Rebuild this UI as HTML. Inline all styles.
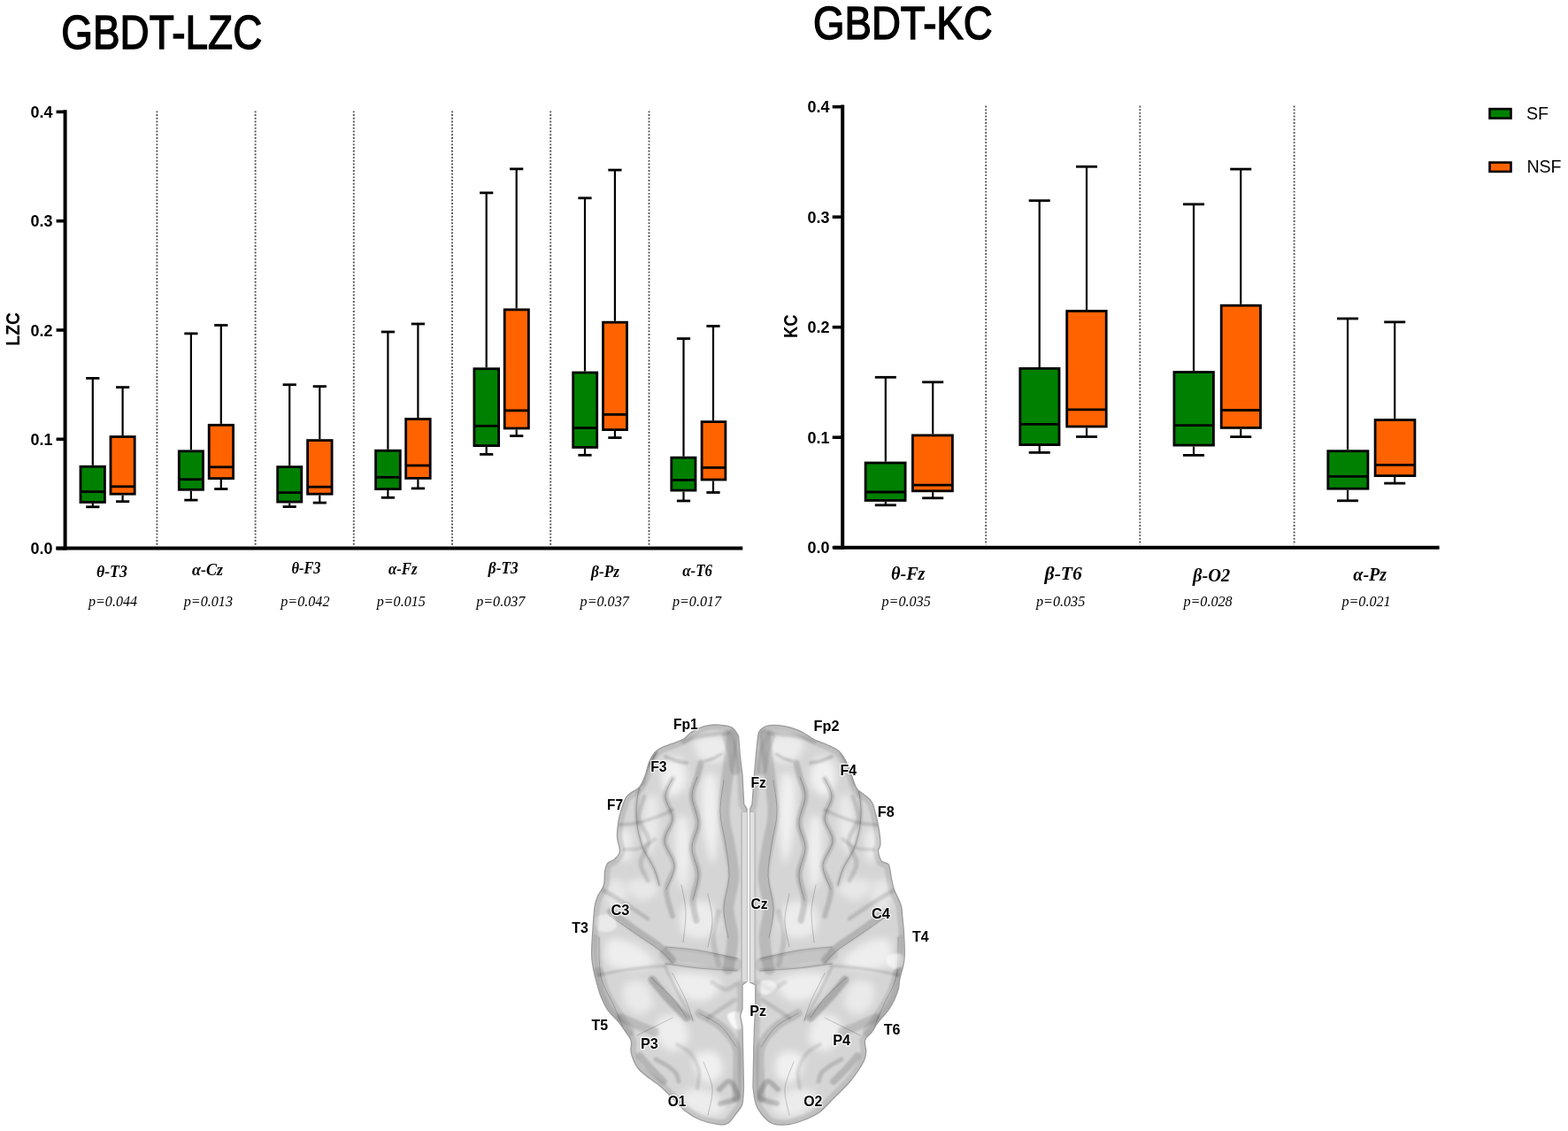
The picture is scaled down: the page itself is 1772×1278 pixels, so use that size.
<!DOCTYPE html>
<html><head><meta charset="utf-8"><title>GBDT-LZC / GBDT-KC</title>
<style>
html,body{margin:0;padding:0;background:#fff;}
body{width:1772px;height:1278px;overflow:hidden;}
svg{display:block;}
.title{font-family:"Liberation Sans",sans-serif;font-size:54px;fill:#000;stroke:#000;stroke-width:1.5px;}
.title2{font-family:"Liberation Sans",sans-serif;font-size:52.5px;fill:#000;stroke:#000;stroke-width:1.5px;}
.tk{font-family:"Liberation Sans",sans-serif;font-weight:bold;font-size:18.6px;fill:#000;}
.ylab{font-family:"Liberation Sans",sans-serif;font-weight:bold;font-size:21.6px;fill:#000;}
.xl{font-family:"Liberation Serif",serif;font-weight:bold;font-style:italic;font-size:18px;fill:#000;}
.xl2{font-family:"Liberation Serif",serif;font-weight:bold;font-style:italic;font-size:21px;fill:#000;}
.pv{font-family:"Liberation Serif",serif;font-style:italic;font-size:16.5px;fill:#000;}
.leg{font-family:"Liberation Sans",sans-serif;font-size:21px;fill:#000;}
.el{font-family:"Liberation Sans",sans-serif;font-weight:bold;font-size:16.6px;fill:#000;stroke:#fff;stroke-width:2.6px;stroke-linejoin:round;paint-order:stroke;stroke-opacity:0.85;}
</style></head>
<body>
<svg width="1772" height="1278" viewBox="0 0 1772 1278">
<text x="69.3" y="55.3" class="title" textLength="227" lengthAdjust="spacingAndGlyphs">GBDT-LZC</text>
<text x="919.1" y="43.5" class="title2" textLength="202.5" lengthAdjust="spacingAndGlyphs">GBDT-KC</text>
<line x1="177.4" y1="125.4" x2="177.4" y2="616" stroke="#555" stroke-width="1.9" stroke-dasharray="1.9 1.8"/>
<line x1="288.6" y1="125.4" x2="288.6" y2="616" stroke="#555" stroke-width="1.9" stroke-dasharray="1.9 1.8"/>
<line x1="399.8" y1="125.4" x2="399.8" y2="616" stroke="#555" stroke-width="1.9" stroke-dasharray="1.9 1.8"/>
<line x1="511.0" y1="125.4" x2="511.0" y2="616" stroke="#555" stroke-width="1.9" stroke-dasharray="1.9 1.8"/>
<line x1="622.2" y1="125.4" x2="622.2" y2="616" stroke="#555" stroke-width="1.9" stroke-dasharray="1.9 1.8"/>
<line x1="733.5" y1="125.4" x2="733.5" y2="616" stroke="#555" stroke-width="1.9" stroke-dasharray="1.9 1.8"/>
<line x1="73.6" y1="124.2" x2="73.6" y2="621.6" stroke="#000" stroke-width="4"/>
<line x1="63.599999999999994" y1="619.6" x2="73.6" y2="619.6" stroke="#000" stroke-width="3.6"/>
<text x="34.5" y="626.2" class="tk" textLength="25" lengthAdjust="spacingAndGlyphs">0.0</text>
<line x1="63.599999999999994" y1="496.3" x2="73.6" y2="496.3" stroke="#000" stroke-width="3.6"/>
<text x="34.5" y="502.9" class="tk" textLength="25" lengthAdjust="spacingAndGlyphs">0.1</text>
<line x1="63.599999999999994" y1="373.0" x2="73.6" y2="373.0" stroke="#000" stroke-width="3.6"/>
<text x="34.5" y="379.6" class="tk" textLength="25" lengthAdjust="spacingAndGlyphs">0.2</text>
<line x1="63.599999999999994" y1="249.7" x2="73.6" y2="249.7" stroke="#000" stroke-width="3.6"/>
<text x="34.5" y="256.3" class="tk" textLength="25" lengthAdjust="spacingAndGlyphs">0.3</text>
<line x1="63.599999999999994" y1="126.4" x2="73.6" y2="126.4" stroke="#000" stroke-width="3.6"/>
<text x="34.5" y="133.0" class="tk" textLength="25" lengthAdjust="spacingAndGlyphs">0.4</text>
<line x1="63.4" y1="619.6" x2="839.3" y2="619.6" stroke="#000" stroke-width="4"/>
<text transform="translate(21.6,390.7) rotate(-90)" class="ylab" textLength="37.7" lengthAdjust="spacingAndGlyphs">LZC</text>
<line x1="104.8" y1="427.4" x2="104.8" y2="525.8" stroke="#000" stroke-width="2.2"/>
<line x1="104.8" y1="568.9" x2="104.8" y2="572.8" stroke="#000" stroke-width="2.2"/>
<line x1="97.2" y1="427.4" x2="112.4" y2="427.4" stroke="#000" stroke-width="2.8"/>
<line x1="97.2" y1="572.8" x2="112.4" y2="572.8" stroke="#000" stroke-width="2.8"/>
<rect x="91.0" y="527.2" width="27.4" height="40.3" fill="#008000" stroke="#000" stroke-width="2.8"/>
<line x1="91.0" y1="555.6" x2="118.4" y2="555.6" stroke="#000" stroke-width="2.8"/>
<line x1="138.6" y1="437.6" x2="138.6" y2="492.1" stroke="#000" stroke-width="2.2"/>
<line x1="138.6" y1="559.6" x2="138.6" y2="566.7" stroke="#000" stroke-width="2.2"/>
<line x1="131.0" y1="437.6" x2="146.2" y2="437.6" stroke="#000" stroke-width="2.8"/>
<line x1="131.0" y1="566.7" x2="146.2" y2="566.7" stroke="#000" stroke-width="2.8"/>
<rect x="125.0" y="493.5" width="27.2" height="64.7" fill="#ff6300" stroke="#000" stroke-width="2.8"/>
<line x1="125.0" y1="549.8" x2="152.2" y2="549.8" stroke="#000" stroke-width="2.8"/>
<line x1="215.9" y1="376.9" x2="215.9" y2="508.4" stroke="#000" stroke-width="2.2"/>
<line x1="215.9" y1="554.7" x2="215.9" y2="565.1" stroke="#000" stroke-width="2.2"/>
<line x1="208.3" y1="376.9" x2="223.5" y2="376.9" stroke="#000" stroke-width="2.8"/>
<line x1="208.3" y1="565.1" x2="223.5" y2="565.1" stroke="#000" stroke-width="2.8"/>
<rect x="202.3" y="509.8" width="27.2" height="43.5" fill="#008000" stroke="#000" stroke-width="2.8"/>
<line x1="202.3" y1="541.7" x2="229.5" y2="541.7" stroke="#000" stroke-width="2.8"/>
<line x1="249.8" y1="367.5" x2="249.8" y2="478.9" stroke="#000" stroke-width="2.2"/>
<line x1="249.8" y1="542.0" x2="249.8" y2="552.5" stroke="#000" stroke-width="2.2"/>
<line x1="242.2" y1="367.5" x2="257.4" y2="367.5" stroke="#000" stroke-width="2.8"/>
<line x1="242.2" y1="552.5" x2="257.4" y2="552.5" stroke="#000" stroke-width="2.8"/>
<rect x="236.2" y="480.3" width="27.4" height="60.3" fill="#ff6300" stroke="#000" stroke-width="2.8"/>
<line x1="236.2" y1="527.8" x2="263.6" y2="527.8" stroke="#000" stroke-width="2.8"/>
<line x1="327.2" y1="434.7" x2="327.2" y2="526.2" stroke="#000" stroke-width="2.2"/>
<line x1="327.2" y1="568.5" x2="327.2" y2="572.6" stroke="#000" stroke-width="2.2"/>
<line x1="319.6" y1="434.7" x2="334.8" y2="434.7" stroke="#000" stroke-width="2.8"/>
<line x1="319.6" y1="572.6" x2="334.8" y2="572.6" stroke="#000" stroke-width="2.8"/>
<rect x="313.7" y="527.6" width="27.1" height="39.5" fill="#008000" stroke="#000" stroke-width="2.8"/>
<line x1="313.7" y1="556.6" x2="340.8" y2="556.6" stroke="#000" stroke-width="2.8"/>
<line x1="361.3" y1="436.6" x2="361.3" y2="496.2" stroke="#000" stroke-width="2.2"/>
<line x1="361.3" y1="559.6" x2="361.3" y2="568.1" stroke="#000" stroke-width="2.2"/>
<line x1="353.7" y1="436.6" x2="368.9" y2="436.6" stroke="#000" stroke-width="2.8"/>
<line x1="353.7" y1="568.1" x2="368.9" y2="568.1" stroke="#000" stroke-width="2.8"/>
<rect x="347.6" y="497.6" width="27.5" height="60.6" fill="#ff6300" stroke="#000" stroke-width="2.8"/>
<line x1="347.6" y1="550.2" x2="375.1" y2="550.2" stroke="#000" stroke-width="2.8"/>
<line x1="438.4" y1="375.0" x2="438.4" y2="507.8" stroke="#000" stroke-width="2.2"/>
<line x1="438.4" y1="554.0" x2="438.4" y2="562.3" stroke="#000" stroke-width="2.2"/>
<line x1="430.8" y1="375.0" x2="446.0" y2="375.0" stroke="#000" stroke-width="2.8"/>
<line x1="430.8" y1="562.3" x2="446.0" y2="562.3" stroke="#000" stroke-width="2.8"/>
<rect x="424.6" y="509.2" width="27.7" height="43.4" fill="#008000" stroke="#000" stroke-width="2.8"/>
<line x1="424.6" y1="539.3" x2="452.3" y2="539.3" stroke="#000" stroke-width="2.8"/>
<line x1="472.4" y1="366.0" x2="472.4" y2="472.1" stroke="#000" stroke-width="2.2"/>
<line x1="472.4" y1="541.8" x2="472.4" y2="551.9" stroke="#000" stroke-width="2.2"/>
<line x1="464.8" y1="366.0" x2="480.0" y2="366.0" stroke="#000" stroke-width="2.8"/>
<line x1="464.8" y1="551.9" x2="480.0" y2="551.9" stroke="#000" stroke-width="2.8"/>
<rect x="458.7" y="473.5" width="27.5" height="66.9" fill="#ff6300" stroke="#000" stroke-width="2.8"/>
<line x1="458.7" y1="526.0" x2="486.2" y2="526.0" stroke="#000" stroke-width="2.8"/>
<line x1="549.7" y1="217.9" x2="549.7" y2="415.3" stroke="#000" stroke-width="2.2"/>
<line x1="549.7" y1="505.0" x2="549.7" y2="513.4" stroke="#000" stroke-width="2.2"/>
<line x1="542.1" y1="217.9" x2="557.3" y2="217.9" stroke="#000" stroke-width="2.8"/>
<line x1="542.1" y1="513.4" x2="557.3" y2="513.4" stroke="#000" stroke-width="2.8"/>
<rect x="535.9" y="416.7" width="27.7" height="86.9" fill="#008000" stroke="#000" stroke-width="2.8"/>
<line x1="535.9" y1="481.3" x2="563.6" y2="481.3" stroke="#000" stroke-width="2.8"/>
<line x1="583.7" y1="190.9" x2="583.7" y2="348.5" stroke="#000" stroke-width="2.2"/>
<line x1="583.7" y1="485.4" x2="583.7" y2="492.6" stroke="#000" stroke-width="2.2"/>
<line x1="576.1" y1="190.9" x2="591.3" y2="190.9" stroke="#000" stroke-width="2.8"/>
<line x1="576.1" y1="492.6" x2="591.3" y2="492.6" stroke="#000" stroke-width="2.8"/>
<rect x="570.2" y="349.9" width="27.2" height="134.1" fill="#ff6300" stroke="#000" stroke-width="2.8"/>
<line x1="570.2" y1="463.9" x2="597.4" y2="463.9" stroke="#000" stroke-width="2.8"/>
<line x1="661.0" y1="223.8" x2="661.0" y2="419.6" stroke="#000" stroke-width="2.2"/>
<line x1="661.0" y1="506.9" x2="661.0" y2="514.3" stroke="#000" stroke-width="2.2"/>
<line x1="653.4" y1="223.8" x2="668.6" y2="223.8" stroke="#000" stroke-width="2.8"/>
<line x1="653.4" y1="514.3" x2="668.6" y2="514.3" stroke="#000" stroke-width="2.8"/>
<rect x="647.7" y="421.0" width="27.0" height="84.5" fill="#008000" stroke="#000" stroke-width="2.8"/>
<line x1="647.7" y1="483.6" x2="674.7" y2="483.6" stroke="#000" stroke-width="2.8"/>
<line x1="694.9" y1="192.1" x2="694.9" y2="362.8" stroke="#000" stroke-width="2.2"/>
<line x1="694.9" y1="487.0" x2="694.9" y2="494.6" stroke="#000" stroke-width="2.2"/>
<line x1="687.3" y1="192.1" x2="702.5" y2="192.1" stroke="#000" stroke-width="2.8"/>
<line x1="687.3" y1="494.6" x2="702.5" y2="494.6" stroke="#000" stroke-width="2.8"/>
<rect x="681.5" y="364.2" width="27.0" height="121.4" fill="#ff6300" stroke="#000" stroke-width="2.8"/>
<line x1="681.5" y1="468.4" x2="708.5" y2="468.4" stroke="#000" stroke-width="2.8"/>
<line x1="772.5" y1="382.6" x2="772.5" y2="515.7" stroke="#000" stroke-width="2.2"/>
<line x1="772.5" y1="555.5" x2="772.5" y2="566.0" stroke="#000" stroke-width="2.2"/>
<line x1="764.9" y1="382.6" x2="780.1" y2="382.6" stroke="#000" stroke-width="2.8"/>
<line x1="764.9" y1="566.0" x2="780.1" y2="566.0" stroke="#000" stroke-width="2.8"/>
<rect x="758.8" y="517.1" width="27.2" height="37.0" fill="#008000" stroke="#000" stroke-width="2.8"/>
<line x1="758.8" y1="542.4" x2="786.0" y2="542.4" stroke="#000" stroke-width="2.8"/>
<line x1="806.0" y1="368.5" x2="806.0" y2="475.2" stroke="#000" stroke-width="2.2"/>
<line x1="806.0" y1="543.4" x2="806.0" y2="556.5" stroke="#000" stroke-width="2.2"/>
<line x1="798.4" y1="368.5" x2="813.6" y2="368.5" stroke="#000" stroke-width="2.8"/>
<line x1="798.4" y1="556.5" x2="813.6" y2="556.5" stroke="#000" stroke-width="2.8"/>
<rect x="793.1" y="476.6" width="26.8" height="65.4" fill="#ff6300" stroke="#000" stroke-width="2.8"/>
<line x1="793.1" y1="528.4" x2="819.9" y2="528.4" stroke="#000" stroke-width="2.8"/>
<text x="108.9" y="651.6" class="xl" textLength="35.0" lengthAdjust="spacingAndGlyphs">θ-T3</text>
<text x="217.0" y="649.8" class="xl" textLength="35.0" lengthAdjust="spacingAndGlyphs">α-Cz</text>
<text x="329.4" y="648.3" class="xl" textLength="33.2" lengthAdjust="spacingAndGlyphs">θ-F3</text>
<text x="438.9" y="648.5" class="xl" textLength="32.7" lengthAdjust="spacingAndGlyphs">α-Fz</text>
<text x="551.8" y="648.3" class="xl" textLength="33.8" lengthAdjust="spacingAndGlyphs">β-T3</text>
<text x="668.0" y="651.6" class="xl" textLength="32.0" lengthAdjust="spacingAndGlyphs">β-Pz</text>
<text x="771.2" y="651.0" class="xl" textLength="33.8" lengthAdjust="spacingAndGlyphs">α-T6</text>
<text x="99.9" y="684.8" class="pv" textLength="55.2" lengthAdjust="spacingAndGlyphs">p=0.044</text>
<text x="207.8" y="684.8" class="pv" textLength="55.2" lengthAdjust="spacingAndGlyphs">p=0.013</text>
<text x="317.3" y="684.8" class="pv" textLength="55.2" lengthAdjust="spacingAndGlyphs">p=0.042</text>
<text x="425.7" y="684.8" class="pv" textLength="55.2" lengthAdjust="spacingAndGlyphs">p=0.015</text>
<text x="538.2" y="684.8" class="pv" textLength="55.2" lengthAdjust="spacingAndGlyphs">p=0.037</text>
<text x="655.6" y="684.8" class="pv" textLength="55.2" lengthAdjust="spacingAndGlyphs">p=0.037</text>
<text x="759.9" y="684.8" class="pv" textLength="55.2" lengthAdjust="spacingAndGlyphs">p=0.017</text>
<line x1="1114.2" y1="119.5" x2="1114.2" y2="615.5" stroke="#555" stroke-width="1.9" stroke-dasharray="1.9 1.8"/>
<line x1="1288.3" y1="119.5" x2="1288.3" y2="615.5" stroke="#555" stroke-width="1.9" stroke-dasharray="1.9 1.8"/>
<line x1="1462.6" y1="119.5" x2="1462.6" y2="615.5" stroke="#555" stroke-width="1.9" stroke-dasharray="1.9 1.8"/>
<line x1="952.2" y1="118.5" x2="952.2" y2="620.7" stroke="#000" stroke-width="4"/>
<line x1="940.7" y1="618.7" x2="952.2" y2="618.7" stroke="#000" stroke-width="3.6"/>
<text x="912.4" y="625.3" class="tk" textLength="25" lengthAdjust="spacingAndGlyphs">0.0</text>
<line x1="940.7" y1="494.2" x2="952.2" y2="494.2" stroke="#000" stroke-width="3.6"/>
<text x="912.4" y="500.8" class="tk" textLength="25" lengthAdjust="spacingAndGlyphs">0.1</text>
<line x1="940.7" y1="369.7" x2="952.2" y2="369.7" stroke="#000" stroke-width="3.6"/>
<text x="912.4" y="376.3" class="tk" textLength="25" lengthAdjust="spacingAndGlyphs">0.2</text>
<line x1="940.7" y1="245.2" x2="952.2" y2="245.2" stroke="#000" stroke-width="3.6"/>
<text x="912.4" y="251.8" class="tk" textLength="25" lengthAdjust="spacingAndGlyphs">0.3</text>
<line x1="940.7" y1="120.7" x2="952.2" y2="120.7" stroke="#000" stroke-width="3.6"/>
<text x="912.4" y="127.3" class="tk" textLength="25" lengthAdjust="spacingAndGlyphs">0.4</text>
<line x1="942" y1="618.7" x2="1626.6" y2="618.7" stroke="#000" stroke-width="4"/>
<text transform="translate(901,382.1) rotate(-90)" class="ylab" textLength="26.6" lengthAdjust="spacingAndGlyphs">KC</text>
<line x1="1000.8" y1="426.3" x2="1000.8" y2="521.6" stroke="#000" stroke-width="2.2"/>
<line x1="1000.8" y1="566.9" x2="1000.8" y2="570.8" stroke="#000" stroke-width="2.2"/>
<line x1="988.8" y1="426.3" x2="1012.8" y2="426.3" stroke="#000" stroke-width="2.8"/>
<line x1="988.8" y1="570.8" x2="1012.8" y2="570.8" stroke="#000" stroke-width="2.8"/>
<rect x="978.1" y="523.0" width="45.0" height="42.5" fill="#008000" stroke="#000" stroke-width="2.8"/>
<line x1="978.1" y1="556.0" x2="1023.1" y2="556.0" stroke="#000" stroke-width="2.8"/>
<line x1="1054.2" y1="431.8" x2="1054.2" y2="490.5" stroke="#000" stroke-width="2.2"/>
<line x1="1054.2" y1="556.2" x2="1054.2" y2="562.8" stroke="#000" stroke-width="2.2"/>
<line x1="1042.2" y1="431.8" x2="1066.2" y2="431.8" stroke="#000" stroke-width="2.8"/>
<line x1="1042.2" y1="562.8" x2="1066.2" y2="562.8" stroke="#000" stroke-width="2.8"/>
<rect x="1031.4" y="491.9" width="45.0" height="62.9" fill="#ff6300" stroke="#000" stroke-width="2.8"/>
<line x1="1031.4" y1="548.2" x2="1076.4" y2="548.2" stroke="#000" stroke-width="2.8"/>
<line x1="1174.7" y1="226.7" x2="1174.7" y2="415.0" stroke="#000" stroke-width="2.2"/>
<line x1="1174.7" y1="504.0" x2="1174.7" y2="511.4" stroke="#000" stroke-width="2.2"/>
<line x1="1162.7" y1="226.7" x2="1186.7" y2="226.7" stroke="#000" stroke-width="2.8"/>
<line x1="1162.7" y1="511.4" x2="1186.7" y2="511.4" stroke="#000" stroke-width="2.8"/>
<rect x="1152.8" y="416.4" width="44.2" height="86.2" fill="#008000" stroke="#000" stroke-width="2.8"/>
<line x1="1152.8" y1="479.3" x2="1197.0" y2="479.3" stroke="#000" stroke-width="2.8"/>
<line x1="1228.0" y1="188.3" x2="1228.0" y2="350.1" stroke="#000" stroke-width="2.2"/>
<line x1="1228.0" y1="483.4" x2="1228.0" y2="493.5" stroke="#000" stroke-width="2.2"/>
<line x1="1216.0" y1="188.3" x2="1240.0" y2="188.3" stroke="#000" stroke-width="2.8"/>
<line x1="1216.0" y1="493.5" x2="1240.0" y2="493.5" stroke="#000" stroke-width="2.8"/>
<rect x="1205.7" y="351.5" width="44.5" height="130.5" fill="#ff6300" stroke="#000" stroke-width="2.8"/>
<line x1="1205.7" y1="462.9" x2="1250.2" y2="462.9" stroke="#000" stroke-width="2.8"/>
<line x1="1349.0" y1="230.8" x2="1349.0" y2="419.1" stroke="#000" stroke-width="2.2"/>
<line x1="1349.0" y1="504.5" x2="1349.0" y2="514.4" stroke="#000" stroke-width="2.2"/>
<line x1="1337.0" y1="230.8" x2="1361.0" y2="230.8" stroke="#000" stroke-width="2.8"/>
<line x1="1337.0" y1="514.4" x2="1361.0" y2="514.4" stroke="#000" stroke-width="2.8"/>
<rect x="1326.9" y="420.5" width="44.5" height="82.6" fill="#008000" stroke="#000" stroke-width="2.8"/>
<line x1="1326.9" y1="480.7" x2="1371.4" y2="480.7" stroke="#000" stroke-width="2.8"/>
<line x1="1402.2" y1="191.1" x2="1402.2" y2="343.8" stroke="#000" stroke-width="2.2"/>
<line x1="1402.2" y1="484.8" x2="1402.2" y2="493.6" stroke="#000" stroke-width="2.2"/>
<line x1="1390.2" y1="191.1" x2="1414.2" y2="191.1" stroke="#000" stroke-width="2.8"/>
<line x1="1390.2" y1="493.6" x2="1414.2" y2="493.6" stroke="#000" stroke-width="2.8"/>
<rect x="1380.2" y="345.2" width="44.3" height="138.2" fill="#ff6300" stroke="#000" stroke-width="2.8"/>
<line x1="1380.2" y1="463.5" x2="1424.5" y2="463.5" stroke="#000" stroke-width="2.8"/>
<line x1="1523.0" y1="360.0" x2="1523.0" y2="508.3" stroke="#000" stroke-width="2.2"/>
<line x1="1523.0" y1="553.6" x2="1523.0" y2="565.8" stroke="#000" stroke-width="2.2"/>
<line x1="1511.0" y1="360.0" x2="1535.0" y2="360.0" stroke="#000" stroke-width="2.8"/>
<line x1="1511.0" y1="565.8" x2="1535.0" y2="565.8" stroke="#000" stroke-width="2.8"/>
<rect x="1500.8" y="509.7" width="45.1" height="42.5" fill="#008000" stroke="#000" stroke-width="2.8"/>
<line x1="1500.8" y1="538.3" x2="1545.9" y2="538.3" stroke="#000" stroke-width="2.8"/>
<line x1="1576.2" y1="363.9" x2="1576.2" y2="473.1" stroke="#000" stroke-width="2.2"/>
<line x1="1576.2" y1="539.0" x2="1576.2" y2="546.1" stroke="#000" stroke-width="2.2"/>
<line x1="1564.2" y1="363.9" x2="1588.2" y2="363.9" stroke="#000" stroke-width="2.8"/>
<line x1="1564.2" y1="546.1" x2="1588.2" y2="546.1" stroke="#000" stroke-width="2.8"/>
<rect x="1554.1" y="474.5" width="44.8" height="63.1" fill="#ff6300" stroke="#000" stroke-width="2.8"/>
<line x1="1554.1" y1="525.4" x2="1598.9" y2="525.4" stroke="#000" stroke-width="2.8"/>
<text x="1007.0" y="655.3" class="xl2" textLength="38.4" lengthAdjust="spacingAndGlyphs">θ-Fz</text>
<text x="1180.6" y="655.3" class="xl2" textLength="42.3" lengthAdjust="spacingAndGlyphs">β-T6</text>
<text x="1348.0" y="656.7" class="xl2" textLength="42.2" lengthAdjust="spacingAndGlyphs">β-O2</text>
<text x="1529.3" y="656.0" class="xl2" textLength="37.8" lengthAdjust="spacingAndGlyphs">α-Pz</text>
<text x="996.5" y="685.4" class="pv" textLength="55.2" lengthAdjust="spacingAndGlyphs">p=0.035</text>
<text x="1171.0" y="685.4" class="pv" textLength="55.2" lengthAdjust="spacingAndGlyphs">p=0.035</text>
<text x="1337.4" y="685.4" class="pv" textLength="55.2" lengthAdjust="spacingAndGlyphs">p=0.028</text>
<text x="1516.4" y="685.4" class="pv" textLength="55.2" lengthAdjust="spacingAndGlyphs">p=0.021</text>
<rect x="1683.5" y="123.1" width="24" height="10.5" fill="#008000" stroke="#000" stroke-width="2.6"/>
<rect x="1683.5" y="183.6" width="24" height="10.3" fill="#ff6300" stroke="#000" stroke-width="2.6"/>
<text x="1724.9" y="134.7" class="leg" textLength="25.1" lengthAdjust="spacingAndGlyphs">SF</text>
<text x="1725.4" y="195.3" class="leg" textLength="39.2" lengthAdjust="spacingAndGlyphs">NSF</text>
<defs>
<clipPath id="cL"><path d="M834.6,831.9 C833.4,830.3 831.2,824.3 827.4,822.2 C823.6,820.1 817.0,819.4 811.8,819.1 C806.6,818.8 801.2,819.3 796.2,820.6 C791.2,821.9 786.0,824.5 782.1,826.9 C778.2,829.3 776.4,832.8 772.7,835.0 C769.1,837.2 764.4,838.6 760.2,840.2 C756.0,841.9 751.0,843.2 747.6,844.9 C744.2,846.6 742.1,847.7 739.8,850.4 C737.5,853.1 735.4,856.9 733.6,861.3 C731.8,865.7 730.7,872.3 728.9,877.0 C727.1,881.7 725.2,886.4 722.6,889.5 C720.0,892.6 715.8,893.7 713.2,895.8 C710.6,897.9 708.8,898.9 707.0,902.0 C705.2,905.1 703.6,910.3 702.3,914.5 C701.0,918.7 699.9,921.9 699.1,927.1 C698.3,932.3 697.3,940.0 697.5,945.8 C697.7,951.6 701.0,957.8 700.5,962.0 C700.0,966.2 696.7,968.6 694.4,970.9 C692.1,973.2 688.4,973.2 686.6,975.6 C684.8,978.0 684.2,980.9 683.5,985.0 C682.8,989.1 683.8,995.4 682.5,1000.0 C681.2,1004.6 677.4,1008.3 675.6,1012.5 C673.9,1016.7 672.9,1019.2 672.0,1025.0 C671.1,1030.8 670.8,1038.1 670.2,1047.0 C669.6,1055.9 668.5,1069.9 668.6,1078.2 C668.7,1086.5 670.1,1091.8 671.0,1097.0 C671.9,1102.2 672.8,1104.8 674.1,1109.5 C675.4,1114.2 676.7,1120.0 678.8,1125.2 C680.9,1130.4 683.2,1135.8 686.6,1140.8 C690.0,1145.8 695.7,1150.7 699.1,1154.9 C702.5,1159.1 704.6,1162.4 707.0,1165.9 C709.4,1169.4 712.2,1172.3 713.2,1176.0 C714.2,1179.7 712.5,1184.3 713.0,1188.0 C713.5,1191.7 714.6,1194.7 716.0,1198.0 C717.4,1201.3 718.5,1204.3 721.5,1207.7 C724.5,1211.1 729.3,1214.7 733.7,1218.2 C738.1,1221.7 743.3,1224.9 747.7,1228.7 C752.1,1232.5 755.6,1236.6 760.0,1241.0 C764.4,1245.4 768.8,1250.9 774.0,1255.0 C779.2,1259.1 785.1,1262.9 791.5,1265.5 C797.9,1268.1 807.2,1270.1 812.5,1270.7 C817.8,1271.3 819.8,1271.0 823.0,1269.0 C826.2,1267.0 829.1,1262.0 831.7,1258.5 C834.3,1255.0 837.2,1253.0 838.7,1248.0 C840.2,1243.0 840.2,1231.9 840.5,1228.7 L839.6,1185.0 L839.0,1160.0 L836.5,1148.0 L839.0,1140.0 L839.0,1113.0 L844.0,1109.0 L844.0,914.0 L840.7,908.6 L839.0,875.7 L836.3,853.8Z"/></clipPath>
<clipPath id="cR"><path d="M856.0,837.4 C856.4,835.6 856.2,829.3 858.2,826.4 C860.2,823.5 863.4,820.9 868.2,819.9 C873.0,818.9 881.3,819.7 887.0,820.6 C892.7,821.5 898.2,823.5 902.6,825.3 C907.0,827.1 910.5,829.8 913.6,831.6 C916.7,833.4 917.5,834.5 921.4,836.3 C925.3,838.1 932.6,840.5 937.0,842.6 C941.4,844.7 944.9,845.9 948.0,848.8 C951.1,851.7 953.4,855.4 955.8,859.8 C958.1,864.2 960.0,870.2 962.1,875.4 C964.2,880.6 965.7,887.2 968.3,891.1 C970.9,895.0 974.8,896.3 977.7,898.9 C980.6,901.5 983.4,902.8 985.5,906.7 C987.6,910.6 988.9,917.2 990.2,922.4 C991.5,927.6 992.6,932.8 993.4,938.0 C994.2,943.2 995.0,949.7 994.9,953.7 C994.8,957.7 992.2,958.8 992.5,962.0 C992.8,965.2 994.5,970.7 996.5,973.2 C998.5,975.7 1002.5,973.8 1004.3,977.1 C1006.1,980.4 1006.4,988.3 1007.4,992.8 C1008.4,997.3 1009.0,1000.7 1010.0,1004.0 C1011.0,1007.3 1012.3,1009.2 1013.7,1012.5 C1015.1,1015.8 1017.4,1019.6 1018.4,1023.5 C1019.4,1027.4 1019.3,1030.8 1019.8,1036.0 C1020.3,1041.2 1021.1,1047.8 1021.5,1054.8 C1021.9,1061.8 1022.4,1072.2 1022.3,1078.2 C1022.2,1084.2 1021.7,1086.1 1020.8,1090.8 C1019.9,1095.5 1017.7,1102.0 1016.8,1106.4 C1015.9,1110.8 1016.3,1113.5 1015.3,1117.4 C1014.3,1121.3 1012.4,1126.0 1010.6,1129.9 C1008.8,1133.8 1006.6,1137.4 1004.3,1140.8 C1001.9,1144.2 998.9,1147.3 996.5,1150.2 C994.1,1153.1 992.0,1155.5 990.2,1158.1 C988.4,1160.7 987.6,1163.0 985.5,1165.9 C983.4,1168.8 978.6,1171.6 977.5,1175.3 C976.4,1179.0 978.8,1184.4 978.7,1188.0 C978.6,1191.6 978.5,1193.4 977.0,1197.0 C975.5,1200.6 972.9,1205.1 970.0,1209.5 C967.1,1213.9 964.1,1218.2 959.4,1223.5 C954.7,1228.8 947.5,1235.5 942.0,1241.0 C936.5,1246.5 931.8,1252.6 926.2,1256.7 C920.7,1260.8 914.5,1263.2 908.7,1265.5 C902.9,1267.8 897.0,1270.0 891.2,1270.7 C885.4,1271.4 878.4,1271.2 873.7,1269.8 C869.0,1268.3 866.4,1265.6 863.2,1262.0 C860.0,1258.4 856.4,1253.5 854.4,1248.0 C852.4,1242.5 851.6,1231.9 851.0,1228.7 L851.8,1185.0 L852.5,1160.0 L853.8,1140.0 L853.8,1113.0 L847.8,1110.0 L847.8,914.0 L850.0,908.6 L851.6,886.7 L853.8,859.3Z"/></clipPath>
<filter id="bl1" filterUnits="userSpaceOnUse" x="600" y="780" width="500" height="520"><feGaussianBlur stdDeviation="1.2"/></filter>
<filter id="bl2" filterUnits="userSpaceOnUse" x="600" y="780" width="500" height="520"><feGaussianBlur stdDeviation="4"/></filter>
</defs>
<path d="M834.6,831.9 C833.4,830.3 831.2,824.3 827.4,822.2 C823.6,820.1 817.0,819.4 811.8,819.1 C806.6,818.8 801.2,819.3 796.2,820.6 C791.2,821.9 786.0,824.5 782.1,826.9 C778.2,829.3 776.4,832.8 772.7,835.0 C769.1,837.2 764.4,838.6 760.2,840.2 C756.0,841.9 751.0,843.2 747.6,844.9 C744.2,846.6 742.1,847.7 739.8,850.4 C737.5,853.1 735.4,856.9 733.6,861.3 C731.8,865.7 730.7,872.3 728.9,877.0 C727.1,881.7 725.2,886.4 722.6,889.5 C720.0,892.6 715.8,893.7 713.2,895.8 C710.6,897.9 708.8,898.9 707.0,902.0 C705.2,905.1 703.6,910.3 702.3,914.5 C701.0,918.7 699.9,921.9 699.1,927.1 C698.3,932.3 697.3,940.0 697.5,945.8 C697.7,951.6 701.0,957.8 700.5,962.0 C700.0,966.2 696.7,968.6 694.4,970.9 C692.1,973.2 688.4,973.2 686.6,975.6 C684.8,978.0 684.2,980.9 683.5,985.0 C682.8,989.1 683.8,995.4 682.5,1000.0 C681.2,1004.6 677.4,1008.3 675.6,1012.5 C673.9,1016.7 672.9,1019.2 672.0,1025.0 C671.1,1030.8 670.8,1038.1 670.2,1047.0 C669.6,1055.9 668.5,1069.9 668.6,1078.2 C668.7,1086.5 670.1,1091.8 671.0,1097.0 C671.9,1102.2 672.8,1104.8 674.1,1109.5 C675.4,1114.2 676.7,1120.0 678.8,1125.2 C680.9,1130.4 683.2,1135.8 686.6,1140.8 C690.0,1145.8 695.7,1150.7 699.1,1154.9 C702.5,1159.1 704.6,1162.4 707.0,1165.9 C709.4,1169.4 712.2,1172.3 713.2,1176.0 C714.2,1179.7 712.5,1184.3 713.0,1188.0 C713.5,1191.7 714.6,1194.7 716.0,1198.0 C717.4,1201.3 718.5,1204.3 721.5,1207.7 C724.5,1211.1 729.3,1214.7 733.7,1218.2 C738.1,1221.7 743.3,1224.9 747.7,1228.7 C752.1,1232.5 755.6,1236.6 760.0,1241.0 C764.4,1245.4 768.8,1250.9 774.0,1255.0 C779.2,1259.1 785.1,1262.9 791.5,1265.5 C797.9,1268.1 807.2,1270.1 812.5,1270.7 C817.8,1271.3 819.8,1271.0 823.0,1269.0 C826.2,1267.0 829.1,1262.0 831.7,1258.5 C834.3,1255.0 837.2,1253.0 838.7,1248.0 C840.2,1243.0 840.2,1231.9 840.5,1228.7 L839.6,1185.0 L839.0,1160.0 L836.5,1148.0 L839.0,1140.0 L839.0,1113.0 L844.0,1109.0 L844.0,914.0 L840.7,908.6 L839.0,875.7 L836.3,853.8Z" fill="#d5d5d5"/>
<g clip-path="url(#cL)">
<path d="M785.0,836.0 C788.0,831.3 803.2,829.0 810.0,830.0 C816.8,831.0 825.2,837.0 826.0,842.0 C826.8,847.0 820.7,857.3 815.0,860.0 C809.3,862.7 797.0,862.0 792.0,858.0 C787.0,854.0 782.0,840.7 785.0,836.0Z" fill="#ffffff" fill-opacity="0.55" filter="url(#bl2)"/>
<path d="M752.0,860.0 C755.7,855.5 766.0,853.8 770.0,858.0 C774.0,862.2 777.7,878.0 776.0,885.0 C774.3,892.0 764.7,900.0 760.0,900.0 C755.3,900.0 749.3,891.7 748.0,885.0 C746.7,878.3 748.3,864.5 752.0,860.0Z" fill="#ffffff" fill-opacity="0.65" filter="url(#bl2)"/>
<path d="M795.0,880.0 C797.5,874.3 805.2,868.5 808.0,876.0 C810.8,883.5 812.3,908.5 812.0,925.0 C811.7,941.5 808.5,970.8 806.0,975.0 C803.5,979.2 799.2,960.8 797.0,950.0 C794.8,939.2 793.3,921.7 793.0,910.0 C792.7,898.3 792.5,885.7 795.0,880.0Z" fill="#ffffff" fill-opacity="0.65" filter="url(#bl2)"/>
<path d="M764.0,930.0 C766.0,920.0 773.3,919.2 776.0,925.0 C778.7,930.8 780.3,951.7 780.0,965.0 C779.7,978.3 776.7,1001.7 774.0,1005.0 C771.3,1008.3 765.7,997.5 764.0,985.0 C762.3,972.5 762.0,940.0 764.0,930.0Z" fill="#ffffff" fill-opacity="0.6" filter="url(#bl2)"/>
<path d="M730.0,905.0 C732.7,897.5 739.7,894.2 742.0,900.0 C744.3,905.8 745.3,929.2 744.0,940.0 C742.7,950.8 737.0,964.2 734.0,965.0 C731.0,965.8 726.7,955.0 726.0,945.0 C725.3,935.0 727.3,912.5 730.0,905.0Z" fill="#ffffff" fill-opacity="0.5" filter="url(#bl2)"/>
<path d="M700.0,938.0 C702.3,933.7 712.0,936.3 714.0,942.0 C716.0,947.7 714.3,967.7 712.0,972.0 C709.7,976.3 702.0,973.7 700.0,968.0 C698.0,962.3 697.7,942.3 700.0,938.0Z" fill="#ffffff" fill-opacity="0.55" filter="url(#bl2)"/>
<path d="M688.0,1062.0 C693.0,1058.3 707.3,1061.7 716.0,1066.0 C724.7,1070.3 740.7,1083.0 740.0,1088.0 C739.3,1093.0 721.0,1096.0 712.0,1096.0 C703.0,1096.0 690.0,1093.7 686.0,1088.0 C682.0,1082.3 683.0,1065.7 688.0,1062.0Z" fill="#ffffff" fill-opacity="0.6" filter="url(#bl2)"/>
<path d="M772.0,1025.0 C777.0,1019.7 793.3,1016.7 800.0,1020.0 C806.7,1023.3 812.8,1038.3 812.0,1045.0 C811.2,1051.7 802.0,1058.8 795.0,1060.0 C788.0,1061.2 773.8,1057.8 770.0,1052.0 C766.2,1046.2 767.0,1030.3 772.0,1025.0Z" fill="#ffffff" fill-opacity="0.55" filter="url(#bl2)"/>
<path d="M760.0,1102.0 C763.3,1097.7 782.8,1098.7 792.0,1100.0 C801.2,1101.3 813.7,1105.0 815.0,1110.0 C816.3,1115.0 807.2,1127.3 800.0,1130.0 C792.8,1132.7 778.7,1130.7 772.0,1126.0 C765.3,1121.3 756.7,1106.3 760.0,1102.0Z" fill="#ffffff" fill-opacity="0.6" filter="url(#bl2)"/>
<path d="M706.0,1112.0 C709.7,1108.0 722.7,1106.2 728.0,1110.0 C733.3,1113.8 739.0,1129.0 738.0,1135.0 C737.0,1141.0 727.3,1146.2 722.0,1146.0 C716.7,1145.8 708.7,1139.7 706.0,1134.0 C703.3,1128.3 702.3,1116.0 706.0,1112.0Z" fill="#ffffff" fill-opacity="0.5" filter="url(#bl2)"/>
<path d="M744.0,1152.0 C748.0,1147.5 762.3,1144.2 768.0,1148.0 C773.7,1151.8 779.3,1168.3 778.0,1175.0 C776.7,1181.7 765.7,1188.0 760.0,1188.0 C754.3,1188.0 746.7,1181.0 744.0,1175.0 C741.3,1169.0 740.0,1156.5 744.0,1152.0Z" fill="#ffffff" fill-opacity="0.6" filter="url(#bl2)"/>
<path d="M786.0,1192.0 C789.8,1188.3 805.0,1186.7 810.0,1190.0 C815.0,1193.3 817.7,1206.3 816.0,1212.0 C814.3,1217.7 804.8,1224.0 800.0,1224.0 C795.2,1224.0 789.3,1217.3 787.0,1212.0 C784.7,1206.7 782.2,1195.7 786.0,1192.0Z" fill="#ffffff" fill-opacity="0.65" filter="url(#bl2)"/>
<path d="M772.0,1234.0 C775.8,1230.7 792.0,1229.0 800.0,1232.0 C808.0,1235.0 820.0,1247.0 820.0,1252.0 C820.0,1257.0 807.2,1262.0 800.0,1262.0 C792.8,1262.0 781.7,1256.7 777.0,1252.0 C772.3,1247.3 768.2,1237.3 772.0,1234.0Z" fill="#ffffff" fill-opacity="0.55" filter="url(#bl2)"/>
<path d="M686.0,998.0 C688.0,992.7 698.3,992.7 702.0,996.0 C705.7,999.3 710.0,1012.7 708.0,1018.0 C706.0,1023.3 693.7,1031.3 690.0,1028.0 C686.3,1024.7 684.0,1003.3 686.0,998.0Z" fill="#ffffff" fill-opacity="0.45" filter="url(#bl2)"/>
<path d="M706.0,1000.0 C706.8,995.7 723.5,991.2 730.0,992.0 C736.5,992.8 745.8,1000.7 745.0,1005.0 C744.2,1009.3 731.5,1018.8 725.0,1018.0 C718.5,1017.2 705.2,1004.3 706.0,1000.0Z" fill="#ffffff" fill-opacity="0.45" filter="url(#bl2)"/>
<path d="M828.0,830.0 C827.2,836.7 824.7,855.3 823.0,870.0 C821.3,884.7 817.8,904.0 818.0,918.0 C818.2,932.0 822.2,942.0 824.0,954.0 C825.8,966.0 829.2,978.0 829.0,990.0 C828.8,1002.0 823.2,1014.3 823.0,1026.0 C822.8,1037.7 828.0,1048.5 828.0,1060.0 C828.0,1071.5 823.8,1089.2 823.0,1095.0" fill="none" stroke="#000000" stroke-width="13" stroke-opacity="0.13" stroke-linecap="round" stroke-linejoin="round" filter="url(#bl1)"/>
<path d="M822.0,832.0 C823.0,835.0 826.5,843.7 828.0,850.0 C829.5,856.3 830.5,866.7 831.0,870.0" fill="none" stroke="#000000" stroke-width="12" stroke-opacity="0.12" stroke-linecap="round" stroke-linejoin="round" filter="url(#bl1)"/>
<path d="M792.0,862.0 C791.3,864.7 789.7,871.7 788.0,878.0 C786.3,884.3 781.8,891.3 782.0,900.0 C782.2,908.7 789.0,920.3 789.0,930.0 C789.0,939.7 782.0,948.3 782.0,958.0 C782.0,967.7 788.8,978.2 789.0,988.0 C789.2,997.8 783.3,1008.3 783.0,1017.0 C782.7,1025.7 786.3,1036.2 787.0,1040.0" fill="none" stroke="#000000" stroke-width="7" stroke-opacity="0.15" stroke-linecap="round" stroke-linejoin="round" filter="url(#bl1)"/>
<path d="M760.0,880.0 C758.7,883.3 752.0,892.5 752.0,900.0 C752.0,907.5 760.2,916.7 760.0,925.0 C759.8,933.3 750.7,941.2 751.0,950.0 C751.3,958.8 761.7,968.8 762.0,978.0 C762.3,987.2 753.3,995.5 753.0,1005.0 C752.7,1014.5 758.8,1030.0 760.0,1035.0" fill="none" stroke="#000000" stroke-width="6" stroke-opacity="0.14" stroke-linecap="round" stroke-linejoin="round" filter="url(#bl1)"/>
<path d="M728.0,900.0 C727.0,904.2 721.2,916.7 722.0,925.0 C722.8,933.3 732.7,941.7 733.0,950.0 C733.3,958.3 724.2,967.5 724.0,975.0 C723.8,982.5 730.7,991.7 732.0,995.0" fill="none" stroke="#000000" stroke-width="5" stroke-opacity="0.12" stroke-linecap="round" stroke-linejoin="round" filter="url(#bl1)"/>
<path d="M742.0,850.0 C739.2,855.3 728.8,870.7 725.0,882.0 C721.2,893.3 719.0,906.0 719.0,918.0 C719.0,930.0 721.7,943.5 725.0,954.0 C728.3,964.5 735.7,973.3 739.0,981.0 C742.3,988.7 744.0,996.8 745.0,1000.0" fill="none" stroke="#000000" stroke-width="4" stroke-opacity="0.12" stroke-linecap="round" stroke-linejoin="round" filter="url(#bl1)"/>
<path d="M772.0,838.0 C775.0,837.0 781.7,833.7 790.0,832.0 C798.3,830.3 816.7,828.7 822.0,828.0" fill="none" stroke="#000000" stroke-width="5" stroke-opacity="0.12" stroke-linecap="round" stroke-linejoin="round" filter="url(#bl1)"/>
<path d="M752.0,855.0 C754.2,855.8 761.0,858.8 765.0,860.0 C769.0,861.2 774.2,861.7 776.0,862.0" fill="none" stroke="#000000" stroke-width="4" stroke-opacity="0.15" stroke-linecap="round" stroke-linejoin="round" filter="url(#bl1)"/>
<path d="M797.0,860.0 C798.5,859.5 803.0,858.3 806.0,857.0 C809.0,855.7 813.5,852.8 815.0,852.0" fill="none" stroke="#000000" stroke-width="3" stroke-opacity="0.16" stroke-linecap="round" stroke-linejoin="round" filter="url(#bl1)"/>
<path d="M700.0,932.0 C703.3,931.7 712.5,931.7 720.0,930.0 C727.5,928.3 738.3,924.5 745.0,922.0 C751.7,919.5 757.5,916.2 760.0,915.0" fill="none" stroke="#000000" stroke-width="4" stroke-opacity="0.12" stroke-linecap="round" stroke-linejoin="round" filter="url(#bl1)"/>
<path d="M705.0,960.0 C708.3,959.7 719.2,960.0 725.0,958.0 C730.8,956.0 737.5,949.7 740.0,948.0" fill="none" stroke="#000000" stroke-width="4" stroke-opacity="0.1" stroke-linecap="round" stroke-linejoin="round" filter="url(#bl1)"/>
<path d="M680.0,1005.0 C683.7,1007.2 693.3,1012.5 702.0,1018.0 C710.7,1023.5 727.0,1034.7 732.0,1038.0" fill="none" stroke="#000000" stroke-width="5" stroke-opacity="0.13" stroke-linecap="round" stroke-linejoin="round" filter="url(#bl1)"/>
<path d="M690.0,1030.0 C694.5,1033.3 707.7,1043.3 717.0,1050.0 C726.3,1056.7 738.8,1064.2 746.0,1070.0 C753.2,1075.8 757.7,1082.5 760.0,1085.0" fill="none" stroke="#000000" stroke-width="8" stroke-opacity="0.16" stroke-linecap="round" stroke-linejoin="round" filter="url(#bl1)"/>
<path d="M752.0,1079.0 C758.3,1079.7 776.5,1081.2 790.0,1083.0 C803.5,1084.8 825.8,1088.8 833.0,1090.0" fill="none" stroke="#000000" stroke-width="14" stroke-opacity="0.08" stroke-linecap="round" stroke-linejoin="round" filter="url(#bl1)"/>
<path d="M752.0,1071.0 C758.3,1071.7 776.5,1072.8 790.0,1075.0 C803.5,1077.2 825.8,1082.5 833.0,1084.0" fill="none" stroke="#000000" stroke-width="3" stroke-opacity="0.13" stroke-linecap="round" stroke-linejoin="round" filter="url(#bl1)"/>
<path d="M752.0,1088.0 C758.3,1088.8 776.5,1091.7 790.0,1093.0 C803.5,1094.3 825.8,1095.5 833.0,1096.0" fill="none" stroke="#000000" stroke-width="3" stroke-opacity="0.13" stroke-linecap="round" stroke-linejoin="round" filter="url(#bl1)"/>
<path d="M676.0,1100.0 C677.3,1104.2 680.3,1117.0 684.0,1125.0 C687.7,1133.0 693.7,1141.3 698.0,1148.0 C702.3,1154.7 708.0,1162.2 710.0,1165.0" fill="none" stroke="#000000" stroke-width="14" stroke-opacity="0.1" stroke-linecap="round" stroke-linejoin="round" filter="url(#bl1)"/>
<path d="M674.0,1060.0 C674.3,1064.2 675.3,1078.3 676.0,1085.0 C676.7,1091.7 677.7,1097.5 678.0,1100.0" fill="none" stroke="#000000" stroke-width="8" stroke-opacity="0.08" stroke-linecap="round" stroke-linejoin="round" filter="url(#bl1)"/>
<path d="M676.0,1102.0 C680.0,1101.2 692.3,1098.3 700.0,1097.0 C707.7,1095.7 713.0,1095.0 722.0,1094.0 C731.0,1093.0 748.7,1091.5 754.0,1091.0" fill="none" stroke="#000000" stroke-width="3" stroke-opacity="0.12" stroke-linecap="round" stroke-linejoin="round" filter="url(#bl1)"/>
<path d="M737.0,1107.0 C739.5,1110.0 747.2,1119.5 752.0,1125.0 C756.8,1130.5 762.0,1135.8 766.0,1140.0 C770.0,1144.2 774.3,1148.3 776.0,1150.0" fill="none" stroke="#000000" stroke-width="9" stroke-opacity="0.2" stroke-linecap="round" stroke-linejoin="round" filter="url(#bl1)"/>
<path d="M752.0,1093.0 C754.2,1097.5 759.8,1110.0 765.0,1120.0 C770.2,1130.0 780.0,1147.5 783.0,1153.0" fill="none" stroke="#000000" stroke-width="3" stroke-opacity="0.12" stroke-linecap="round" stroke-linejoin="round" filter="url(#bl1)"/>
<path d="M702.0,1150.0 C705.0,1151.3 713.7,1155.3 720.0,1158.0 C726.3,1160.7 736.7,1164.7 740.0,1166.0" fill="none" stroke="#000000" stroke-width="10" stroke-opacity="0.12" stroke-linecap="round" stroke-linejoin="round" filter="url(#bl1)"/>
<path d="M790.0,1145.0 C794.2,1147.5 808.0,1153.7 815.0,1160.0 C822.0,1166.3 829.0,1173.8 832.0,1183.0 C835.0,1192.2 833.0,1205.3 833.0,1215.0 C833.0,1224.7 832.2,1236.7 832.0,1241.0" fill="none" stroke="#000000" stroke-width="10" stroke-opacity="0.12" stroke-linecap="round" stroke-linejoin="round" filter="url(#bl1)"/>
<path d="M723.0,1193.0 C725.2,1195.5 731.5,1203.2 736.0,1208.0 C740.5,1212.8 747.7,1219.7 750.0,1222.0" fill="none" stroke="#000000" stroke-width="8" stroke-opacity="0.15" stroke-linecap="round" stroke-linejoin="round" filter="url(#bl1)"/>
<path d="M741.0,1197.0 C743.3,1198.3 751.2,1202.3 755.0,1205.0 C758.8,1207.7 762.0,1210.2 764.0,1213.0 C766.0,1215.8 766.5,1220.5 767.0,1222.0" fill="none" stroke="#000000" stroke-width="5" stroke-opacity="0.14" stroke-linecap="round" stroke-linejoin="round" filter="url(#bl1)"/>
<path d="M765.0,1180.0 C767.5,1181.7 775.8,1185.0 780.0,1190.0 C784.2,1195.0 788.7,1203.3 790.0,1210.0 C791.3,1216.7 788.3,1226.7 788.0,1230.0" fill="none" stroke="#000000" stroke-width="4" stroke-opacity="0.1" stroke-linecap="round" stroke-linejoin="round" filter="url(#bl1)"/>
<path d="M813.0,1231.0 C815.0,1229.5 821.7,1220.5 825.0,1222.0 C828.3,1223.5 834.8,1235.8 833.0,1240.0 C831.2,1244.2 817.2,1245.8 814.0,1247.0" fill="none" stroke="#000000" stroke-width="6" stroke-opacity="0.18" stroke-linecap="round" stroke-linejoin="round" filter="url(#bl1)"/>
<path d="M738.0,852.0 C736.7,854.7 732.0,862.5 730.0,868.0 C728.0,873.5 726.7,882.2 726.0,885.0" fill="none" stroke="#000000" stroke-width="6" stroke-opacity="0.13" stroke-linecap="round" stroke-linejoin="round" filter="url(#bl1)"/>
<path d="M812.0,1030.0 C811.0,1035.0 806.0,1050.0 806.0,1060.0 C806.0,1070.0 811.0,1085.0 812.0,1090.0" fill="none" stroke="#000000" stroke-width="6" stroke-opacity="0.1" stroke-linecap="round" stroke-linejoin="round" filter="url(#bl1)"/>
<path d="M800.0,1150.0 C802.5,1148.3 810.0,1143.3 815.0,1140.0 C820.0,1136.7 827.5,1131.7 830.0,1130.0" fill="none" stroke="#000000" stroke-width="5" stroke-opacity="0.11" stroke-linecap="round" stroke-linejoin="round" filter="url(#bl1)"/>
<path d="M805.0,1110.0 C807.5,1111.3 815.5,1117.7 820.0,1118.0 C824.5,1118.3 830.0,1113.0 832.0,1112.0" fill="none" stroke="#000000" stroke-width="5" stroke-opacity="0.1" stroke-linecap="round" stroke-linejoin="round" filter="url(#bl1)"/>
<path d="M818.0,882.0 C817.3,888.0 813.7,906.0 814.0,918.0 C814.3,930.0 818.3,942.0 820.0,954.0 C821.7,966.0 824.3,978.0 824.0,990.0 C823.7,1002.0 818.2,1014.3 818.0,1026.0 C817.8,1037.7 822.2,1054.3 823.0,1060.0" fill="none" stroke="#000000" stroke-width="0.9" stroke-opacity="0.22" stroke-linecap="round" stroke-linejoin="round"/>
<path d="M788.0,878.0 C787.0,881.7 781.8,891.3 782.0,900.0 C782.2,908.7 789.0,920.3 789.0,930.0 C789.0,939.7 782.0,948.3 782.0,958.0 C782.0,967.7 788.8,978.2 789.0,988.0 C789.2,997.8 784.0,1012.2 783.0,1017.0" fill="none" stroke="#000000" stroke-width="0.9" stroke-opacity="0.22" stroke-linecap="round" stroke-linejoin="round"/>
<path d="M760.0,880.0 C758.7,883.3 752.0,892.5 752.0,900.0 C752.0,907.5 760.2,916.7 760.0,925.0 C759.8,933.3 750.7,941.2 751.0,950.0 C751.3,958.8 761.7,968.8 762.0,978.0 C762.3,987.2 754.5,1000.5 753.0,1005.0" fill="none" stroke="#000000" stroke-width="0.9" stroke-opacity="0.22" stroke-linecap="round" stroke-linejoin="round"/>
<path d="M742.0,850.0 C739.2,855.3 728.8,870.7 725.0,882.0 C721.2,893.3 719.0,906.0 719.0,918.0 C719.0,930.0 721.7,943.5 725.0,954.0 C728.3,964.5 735.7,973.3 739.0,981.0 C742.3,988.7 744.0,996.8 745.0,1000.0" fill="none" stroke="#000000" stroke-width="0.9" stroke-opacity="0.22" stroke-linecap="round" stroke-linejoin="round"/>
<path d="M688.0,1034.0 C692.8,1037.3 707.3,1047.3 717.0,1054.0 C726.7,1060.7 738.8,1068.3 746.0,1074.0 C753.2,1079.7 757.7,1085.7 760.0,1088.0" fill="none" stroke="#000000" stroke-width="0.9" stroke-opacity="0.22" stroke-linecap="round" stroke-linejoin="round"/>
<path d="M752.0,1070.0 C758.3,1070.7 776.5,1071.8 790.0,1074.0 C803.5,1076.2 825.8,1081.5 833.0,1083.0" fill="none" stroke="#000000" stroke-width="0.9" stroke-opacity="0.22" stroke-linecap="round" stroke-linejoin="round"/>
<path d="M752.0,1089.0 C758.3,1089.8 776.5,1092.7 790.0,1094.0 C803.5,1095.3 825.8,1096.5 833.0,1097.0" fill="none" stroke="#000000" stroke-width="0.9" stroke-opacity="0.22" stroke-linecap="round" stroke-linejoin="round"/>
<path d="M677.0,1059.0 C677.3,1066.3 676.2,1090.0 679.0,1103.0 C681.8,1116.0 689.8,1127.5 694.0,1137.0 C698.2,1146.5 702.3,1156.2 704.0,1160.0" fill="none" stroke="#000000" stroke-width="0.9" stroke-opacity="0.22" stroke-linecap="round" stroke-linejoin="round"/>
<path d="M736.0,1105.0 C740.0,1108.8 753.3,1120.5 760.0,1128.0 C766.7,1135.5 773.3,1146.3 776.0,1150.0" fill="none" stroke="#000000" stroke-width="0.9" stroke-opacity="0.22" stroke-linecap="round" stroke-linejoin="round"/>
<path d="M790.0,1145.0 C794.2,1147.5 808.0,1153.7 815.0,1160.0 C822.0,1166.3 829.2,1179.2 832.0,1183.0" fill="none" stroke="#000000" stroke-width="0.9" stroke-opacity="0.22" stroke-linecap="round" stroke-linejoin="round"/>
<path d="M760.0,1100.0 C762.5,1105.0 771.2,1121.2 775.0,1130.0 C778.8,1138.8 781.7,1149.2 783.0,1153.0" fill="none" stroke="#000000" stroke-width="0.9" stroke-opacity="0.22" stroke-linecap="round" stroke-linejoin="round"/>
<path d="M800.0,1010.0 C800.8,1015.0 805.0,1030.0 805.0,1040.0 C805.0,1050.0 800.8,1065.0 800.0,1070.0" fill="none" stroke="#000000" stroke-width="0.9" stroke-opacity="0.22" stroke-linecap="round" stroke-linejoin="round"/>
<path d="M770.0,1000.0 C770.8,1005.0 774.7,1019.2 775.0,1030.0 C775.3,1040.8 772.5,1059.2 772.0,1065.0" fill="none" stroke="#000000" stroke-width="0.9" stroke-opacity="0.22" stroke-linecap="round" stroke-linejoin="round"/>
<path d="M720.0,1170.0 C723.3,1168.3 733.3,1163.3 740.0,1160.0 C746.7,1156.7 756.7,1151.7 760.0,1150.0" fill="none" stroke="#000000" stroke-width="0.9" stroke-opacity="0.22" stroke-linecap="round" stroke-linejoin="round"/>
<path d="M795.0,1200.0 C796.7,1205.0 804.2,1220.0 805.0,1230.0 C805.8,1240.0 800.8,1255.0 800.0,1260.0" fill="none" stroke="#000000" stroke-width="0.9" stroke-opacity="0.22" stroke-linecap="round" stroke-linejoin="round"/>
<path d="M822.0,1147.0 C822.5,1144.2 828.3,1143.0 831.0,1143.0 C833.7,1143.0 837.0,1143.7 838.0,1147.0 C839.0,1150.3 838.7,1160.8 837.0,1163.0 C835.3,1165.2 830.5,1162.7 828.0,1160.0 C825.5,1157.3 821.5,1149.8 822.0,1147.0Z" fill="#ffffff" fill-opacity="0.85" filter="url(#bl1)"/>
<path d="M674.0,1036.0 C676.5,1033.3 686.2,1032.3 690.0,1034.0 C693.8,1035.7 697.3,1042.8 697.0,1046.0 C696.7,1049.2 691.7,1052.3 688.0,1053.0 C684.3,1053.7 677.3,1052.8 675.0,1050.0 C672.7,1047.2 671.5,1038.7 674.0,1036.0Z" fill="#ffffff" fill-opacity="0.5" filter="url(#bl1)"/>
</g>
<path d="M834.6,831.9 C833.4,830.3 831.2,824.3 827.4,822.2 C823.6,820.1 817.0,819.4 811.8,819.1 C806.6,818.8 801.2,819.3 796.2,820.6 C791.2,821.9 786.0,824.5 782.1,826.9 C778.2,829.3 776.4,832.8 772.7,835.0 C769.1,837.2 764.4,838.6 760.2,840.2 C756.0,841.9 751.0,843.2 747.6,844.9 C744.2,846.6 742.1,847.7 739.8,850.4 C737.5,853.1 735.4,856.9 733.6,861.3 C731.8,865.7 730.7,872.3 728.9,877.0 C727.1,881.7 725.2,886.4 722.6,889.5 C720.0,892.6 715.8,893.7 713.2,895.8 C710.6,897.9 708.8,898.9 707.0,902.0 C705.2,905.1 703.6,910.3 702.3,914.5 C701.0,918.7 699.9,921.9 699.1,927.1 C698.3,932.3 697.3,940.0 697.5,945.8 C697.7,951.6 701.0,957.8 700.5,962.0 C700.0,966.2 696.7,968.6 694.4,970.9 C692.1,973.2 688.4,973.2 686.6,975.6 C684.8,978.0 684.2,980.9 683.5,985.0 C682.8,989.1 683.8,995.4 682.5,1000.0 C681.2,1004.6 677.4,1008.3 675.6,1012.5 C673.9,1016.7 672.9,1019.2 672.0,1025.0 C671.1,1030.8 670.8,1038.1 670.2,1047.0 C669.6,1055.9 668.5,1069.9 668.6,1078.2 C668.7,1086.5 670.1,1091.8 671.0,1097.0 C671.9,1102.2 672.8,1104.8 674.1,1109.5 C675.4,1114.2 676.7,1120.0 678.8,1125.2 C680.9,1130.4 683.2,1135.8 686.6,1140.8 C690.0,1145.8 695.7,1150.7 699.1,1154.9 C702.5,1159.1 704.6,1162.4 707.0,1165.9 C709.4,1169.4 712.2,1172.3 713.2,1176.0 C714.2,1179.7 712.5,1184.3 713.0,1188.0 C713.5,1191.7 714.6,1194.7 716.0,1198.0 C717.4,1201.3 718.5,1204.3 721.5,1207.7 C724.5,1211.1 729.3,1214.7 733.7,1218.2 C738.1,1221.7 743.3,1224.9 747.7,1228.7 C752.1,1232.5 755.6,1236.6 760.0,1241.0 C764.4,1245.4 768.8,1250.9 774.0,1255.0 C779.2,1259.1 785.1,1262.9 791.5,1265.5 C797.9,1268.1 807.2,1270.1 812.5,1270.7 C817.8,1271.3 819.8,1271.0 823.0,1269.0 C826.2,1267.0 829.1,1262.0 831.7,1258.5 C834.3,1255.0 837.2,1253.0 838.7,1248.0 C840.2,1243.0 840.2,1231.9 840.5,1228.7 L839.6,1185.0 L839.0,1160.0 L836.5,1148.0 L839.0,1140.0 L839.0,1113.0 L844.0,1109.0 L844.0,914.0 L840.7,908.6 L839.0,875.7 L836.3,853.8Z" fill="none" stroke="#000" stroke-opacity="0.10" stroke-width="12" clip-path="url(#cL)" filter="url(#bl1)"/>
<path d="M834.6,831.9 C833.4,830.3 831.2,824.3 827.4,822.2 C823.6,820.1 817.0,819.4 811.8,819.1 C806.6,818.8 801.2,819.3 796.2,820.6 C791.2,821.9 786.0,824.5 782.1,826.9 C778.2,829.3 776.4,832.8 772.7,835.0 C769.1,837.2 764.4,838.6 760.2,840.2 C756.0,841.9 751.0,843.2 747.6,844.9 C744.2,846.6 742.1,847.7 739.8,850.4 C737.5,853.1 735.4,856.9 733.6,861.3 C731.8,865.7 730.7,872.3 728.9,877.0 C727.1,881.7 725.2,886.4 722.6,889.5 C720.0,892.6 715.8,893.7 713.2,895.8 C710.6,897.9 708.8,898.9 707.0,902.0 C705.2,905.1 703.6,910.3 702.3,914.5 C701.0,918.7 699.9,921.9 699.1,927.1 C698.3,932.3 697.3,940.0 697.5,945.8 C697.7,951.6 701.0,957.8 700.5,962.0 C700.0,966.2 696.7,968.6 694.4,970.9 C692.1,973.2 688.4,973.2 686.6,975.6 C684.8,978.0 684.2,980.9 683.5,985.0 C682.8,989.1 683.8,995.4 682.5,1000.0 C681.2,1004.6 677.4,1008.3 675.6,1012.5 C673.9,1016.7 672.9,1019.2 672.0,1025.0 C671.1,1030.8 670.8,1038.1 670.2,1047.0 C669.6,1055.9 668.5,1069.9 668.6,1078.2 C668.7,1086.5 670.1,1091.8 671.0,1097.0 C671.9,1102.2 672.8,1104.8 674.1,1109.5 C675.4,1114.2 676.7,1120.0 678.8,1125.2 C680.9,1130.4 683.2,1135.8 686.6,1140.8 C690.0,1145.8 695.7,1150.7 699.1,1154.9 C702.5,1159.1 704.6,1162.4 707.0,1165.9 C709.4,1169.4 712.2,1172.3 713.2,1176.0 C714.2,1179.7 712.5,1184.3 713.0,1188.0 C713.5,1191.7 714.6,1194.7 716.0,1198.0 C717.4,1201.3 718.5,1204.3 721.5,1207.7 C724.5,1211.1 729.3,1214.7 733.7,1218.2 C738.1,1221.7 743.3,1224.9 747.7,1228.7 C752.1,1232.5 755.6,1236.6 760.0,1241.0 C764.4,1245.4 768.8,1250.9 774.0,1255.0 C779.2,1259.1 785.1,1262.9 791.5,1265.5 C797.9,1268.1 807.2,1270.1 812.5,1270.7 C817.8,1271.3 819.8,1271.0 823.0,1269.0 C826.2,1267.0 829.1,1262.0 831.7,1258.5 C834.3,1255.0 837.2,1253.0 838.7,1248.0 C840.2,1243.0 840.2,1231.9 840.5,1228.7 L839.6,1185.0 L839.0,1160.0 L836.5,1148.0 L839.0,1140.0 L839.0,1113.0 L844.0,1109.0 L844.0,914.0 L840.7,908.6 L839.0,875.7 L836.3,853.8Z" fill="none" stroke="#9c9c9c" stroke-width="1.3"/>
<path d="M856.0,837.4 C856.4,835.6 856.2,829.3 858.2,826.4 C860.2,823.5 863.4,820.9 868.2,819.9 C873.0,818.9 881.3,819.7 887.0,820.6 C892.7,821.5 898.2,823.5 902.6,825.3 C907.0,827.1 910.5,829.8 913.6,831.6 C916.7,833.4 917.5,834.5 921.4,836.3 C925.3,838.1 932.6,840.5 937.0,842.6 C941.4,844.7 944.9,845.9 948.0,848.8 C951.1,851.7 953.4,855.4 955.8,859.8 C958.1,864.2 960.0,870.2 962.1,875.4 C964.2,880.6 965.7,887.2 968.3,891.1 C970.9,895.0 974.8,896.3 977.7,898.9 C980.6,901.5 983.4,902.8 985.5,906.7 C987.6,910.6 988.9,917.2 990.2,922.4 C991.5,927.6 992.6,932.8 993.4,938.0 C994.2,943.2 995.0,949.7 994.9,953.7 C994.8,957.7 992.2,958.8 992.5,962.0 C992.8,965.2 994.5,970.7 996.5,973.2 C998.5,975.7 1002.5,973.8 1004.3,977.1 C1006.1,980.4 1006.4,988.3 1007.4,992.8 C1008.4,997.3 1009.0,1000.7 1010.0,1004.0 C1011.0,1007.3 1012.3,1009.2 1013.7,1012.5 C1015.1,1015.8 1017.4,1019.6 1018.4,1023.5 C1019.4,1027.4 1019.3,1030.8 1019.8,1036.0 C1020.3,1041.2 1021.1,1047.8 1021.5,1054.8 C1021.9,1061.8 1022.4,1072.2 1022.3,1078.2 C1022.2,1084.2 1021.7,1086.1 1020.8,1090.8 C1019.9,1095.5 1017.7,1102.0 1016.8,1106.4 C1015.9,1110.8 1016.3,1113.5 1015.3,1117.4 C1014.3,1121.3 1012.4,1126.0 1010.6,1129.9 C1008.8,1133.8 1006.6,1137.4 1004.3,1140.8 C1001.9,1144.2 998.9,1147.3 996.5,1150.2 C994.1,1153.1 992.0,1155.5 990.2,1158.1 C988.4,1160.7 987.6,1163.0 985.5,1165.9 C983.4,1168.8 978.6,1171.6 977.5,1175.3 C976.4,1179.0 978.8,1184.4 978.7,1188.0 C978.6,1191.6 978.5,1193.4 977.0,1197.0 C975.5,1200.6 972.9,1205.1 970.0,1209.5 C967.1,1213.9 964.1,1218.2 959.4,1223.5 C954.7,1228.8 947.5,1235.5 942.0,1241.0 C936.5,1246.5 931.8,1252.6 926.2,1256.7 C920.7,1260.8 914.5,1263.2 908.7,1265.5 C902.9,1267.8 897.0,1270.0 891.2,1270.7 C885.4,1271.4 878.4,1271.2 873.7,1269.8 C869.0,1268.3 866.4,1265.6 863.2,1262.0 C860.0,1258.4 856.4,1253.5 854.4,1248.0 C852.4,1242.5 851.6,1231.9 851.0,1228.7 L851.8,1185.0 L852.5,1160.0 L853.8,1140.0 L853.8,1113.0 L847.8,1110.0 L847.8,914.0 L850.0,908.6 L851.6,886.7 L853.8,859.3Z" fill="#d5d5d5"/>
<g clip-path="url(#cR)">
<g transform="translate(1692,0) scale(-1,1)"><path d="M785.0,836.0 C788.0,831.3 803.2,829.0 810.0,830.0 C816.8,831.0 825.2,837.0 826.0,842.0 C826.8,847.0 820.7,857.3 815.0,860.0 C809.3,862.7 797.0,862.0 792.0,858.0 C787.0,854.0 782.0,840.7 785.0,836.0Z" fill="#ffffff" fill-opacity="0.55" filter="url(#bl2)"/>
<path d="M752.0,860.0 C755.7,855.5 766.0,853.8 770.0,858.0 C774.0,862.2 777.7,878.0 776.0,885.0 C774.3,892.0 764.7,900.0 760.0,900.0 C755.3,900.0 749.3,891.7 748.0,885.0 C746.7,878.3 748.3,864.5 752.0,860.0Z" fill="#ffffff" fill-opacity="0.65" filter="url(#bl2)"/>
<path d="M795.0,880.0 C797.5,874.3 805.2,868.5 808.0,876.0 C810.8,883.5 812.3,908.5 812.0,925.0 C811.7,941.5 808.5,970.8 806.0,975.0 C803.5,979.2 799.2,960.8 797.0,950.0 C794.8,939.2 793.3,921.7 793.0,910.0 C792.7,898.3 792.5,885.7 795.0,880.0Z" fill="#ffffff" fill-opacity="0.65" filter="url(#bl2)"/>
<path d="M764.0,930.0 C766.0,920.0 773.3,919.2 776.0,925.0 C778.7,930.8 780.3,951.7 780.0,965.0 C779.7,978.3 776.7,1001.7 774.0,1005.0 C771.3,1008.3 765.7,997.5 764.0,985.0 C762.3,972.5 762.0,940.0 764.0,930.0Z" fill="#ffffff" fill-opacity="0.6" filter="url(#bl2)"/>
<path d="M730.0,905.0 C732.7,897.5 739.7,894.2 742.0,900.0 C744.3,905.8 745.3,929.2 744.0,940.0 C742.7,950.8 737.0,964.2 734.0,965.0 C731.0,965.8 726.7,955.0 726.0,945.0 C725.3,935.0 727.3,912.5 730.0,905.0Z" fill="#ffffff" fill-opacity="0.5" filter="url(#bl2)"/>
<path d="M700.0,938.0 C702.3,933.7 712.0,936.3 714.0,942.0 C716.0,947.7 714.3,967.7 712.0,972.0 C709.7,976.3 702.0,973.7 700.0,968.0 C698.0,962.3 697.7,942.3 700.0,938.0Z" fill="#ffffff" fill-opacity="0.55" filter="url(#bl2)"/>
<path d="M688.0,1062.0 C693.0,1058.3 707.3,1061.7 716.0,1066.0 C724.7,1070.3 740.7,1083.0 740.0,1088.0 C739.3,1093.0 721.0,1096.0 712.0,1096.0 C703.0,1096.0 690.0,1093.7 686.0,1088.0 C682.0,1082.3 683.0,1065.7 688.0,1062.0Z" fill="#ffffff" fill-opacity="0.6" filter="url(#bl2)"/>
<path d="M772.0,1025.0 C777.0,1019.7 793.3,1016.7 800.0,1020.0 C806.7,1023.3 812.8,1038.3 812.0,1045.0 C811.2,1051.7 802.0,1058.8 795.0,1060.0 C788.0,1061.2 773.8,1057.8 770.0,1052.0 C766.2,1046.2 767.0,1030.3 772.0,1025.0Z" fill="#ffffff" fill-opacity="0.55" filter="url(#bl2)"/>
<path d="M760.0,1102.0 C763.3,1097.7 782.8,1098.7 792.0,1100.0 C801.2,1101.3 813.7,1105.0 815.0,1110.0 C816.3,1115.0 807.2,1127.3 800.0,1130.0 C792.8,1132.7 778.7,1130.7 772.0,1126.0 C765.3,1121.3 756.7,1106.3 760.0,1102.0Z" fill="#ffffff" fill-opacity="0.6" filter="url(#bl2)"/>
<path d="M706.0,1112.0 C709.7,1108.0 722.7,1106.2 728.0,1110.0 C733.3,1113.8 739.0,1129.0 738.0,1135.0 C737.0,1141.0 727.3,1146.2 722.0,1146.0 C716.7,1145.8 708.7,1139.7 706.0,1134.0 C703.3,1128.3 702.3,1116.0 706.0,1112.0Z" fill="#ffffff" fill-opacity="0.5" filter="url(#bl2)"/>
<path d="M744.0,1152.0 C748.0,1147.5 762.3,1144.2 768.0,1148.0 C773.7,1151.8 779.3,1168.3 778.0,1175.0 C776.7,1181.7 765.7,1188.0 760.0,1188.0 C754.3,1188.0 746.7,1181.0 744.0,1175.0 C741.3,1169.0 740.0,1156.5 744.0,1152.0Z" fill="#ffffff" fill-opacity="0.6" filter="url(#bl2)"/>
<path d="M786.0,1192.0 C789.8,1188.3 805.0,1186.7 810.0,1190.0 C815.0,1193.3 817.7,1206.3 816.0,1212.0 C814.3,1217.7 804.8,1224.0 800.0,1224.0 C795.2,1224.0 789.3,1217.3 787.0,1212.0 C784.7,1206.7 782.2,1195.7 786.0,1192.0Z" fill="#ffffff" fill-opacity="0.65" filter="url(#bl2)"/>
<path d="M772.0,1234.0 C775.8,1230.7 792.0,1229.0 800.0,1232.0 C808.0,1235.0 820.0,1247.0 820.0,1252.0 C820.0,1257.0 807.2,1262.0 800.0,1262.0 C792.8,1262.0 781.7,1256.7 777.0,1252.0 C772.3,1247.3 768.2,1237.3 772.0,1234.0Z" fill="#ffffff" fill-opacity="0.55" filter="url(#bl2)"/>
<path d="M686.0,998.0 C688.0,992.7 698.3,992.7 702.0,996.0 C705.7,999.3 710.0,1012.7 708.0,1018.0 C706.0,1023.3 693.7,1031.3 690.0,1028.0 C686.3,1024.7 684.0,1003.3 686.0,998.0Z" fill="#ffffff" fill-opacity="0.45" filter="url(#bl2)"/>
<path d="M706.0,1000.0 C706.8,995.7 723.5,991.2 730.0,992.0 C736.5,992.8 745.8,1000.7 745.0,1005.0 C744.2,1009.3 731.5,1018.8 725.0,1018.0 C718.5,1017.2 705.2,1004.3 706.0,1000.0Z" fill="#ffffff" fill-opacity="0.45" filter="url(#bl2)"/>
<path d="M828.0,830.0 C827.2,836.7 824.7,855.3 823.0,870.0 C821.3,884.7 817.8,904.0 818.0,918.0 C818.2,932.0 822.2,942.0 824.0,954.0 C825.8,966.0 829.2,978.0 829.0,990.0 C828.8,1002.0 823.2,1014.3 823.0,1026.0 C822.8,1037.7 828.0,1048.5 828.0,1060.0 C828.0,1071.5 823.8,1089.2 823.0,1095.0" fill="none" stroke="#000000" stroke-width="13" stroke-opacity="0.13" stroke-linecap="round" stroke-linejoin="round" filter="url(#bl1)"/>
<path d="M822.0,832.0 C823.0,835.0 826.5,843.7 828.0,850.0 C829.5,856.3 830.5,866.7 831.0,870.0" fill="none" stroke="#000000" stroke-width="12" stroke-opacity="0.12" stroke-linecap="round" stroke-linejoin="round" filter="url(#bl1)"/>
<path d="M792.0,862.0 C791.3,864.7 789.7,871.7 788.0,878.0 C786.3,884.3 781.8,891.3 782.0,900.0 C782.2,908.7 789.0,920.3 789.0,930.0 C789.0,939.7 782.0,948.3 782.0,958.0 C782.0,967.7 788.8,978.2 789.0,988.0 C789.2,997.8 783.3,1008.3 783.0,1017.0 C782.7,1025.7 786.3,1036.2 787.0,1040.0" fill="none" stroke="#000000" stroke-width="7" stroke-opacity="0.15" stroke-linecap="round" stroke-linejoin="round" filter="url(#bl1)"/>
<path d="M760.0,880.0 C758.7,883.3 752.0,892.5 752.0,900.0 C752.0,907.5 760.2,916.7 760.0,925.0 C759.8,933.3 750.7,941.2 751.0,950.0 C751.3,958.8 761.7,968.8 762.0,978.0 C762.3,987.2 753.3,995.5 753.0,1005.0 C752.7,1014.5 758.8,1030.0 760.0,1035.0" fill="none" stroke="#000000" stroke-width="6" stroke-opacity="0.14" stroke-linecap="round" stroke-linejoin="round" filter="url(#bl1)"/>
<path d="M728.0,900.0 C727.0,904.2 721.2,916.7 722.0,925.0 C722.8,933.3 732.7,941.7 733.0,950.0 C733.3,958.3 724.2,967.5 724.0,975.0 C723.8,982.5 730.7,991.7 732.0,995.0" fill="none" stroke="#000000" stroke-width="5" stroke-opacity="0.12" stroke-linecap="round" stroke-linejoin="round" filter="url(#bl1)"/>
<path d="M742.0,850.0 C739.2,855.3 728.8,870.7 725.0,882.0 C721.2,893.3 719.0,906.0 719.0,918.0 C719.0,930.0 721.7,943.5 725.0,954.0 C728.3,964.5 735.7,973.3 739.0,981.0 C742.3,988.7 744.0,996.8 745.0,1000.0" fill="none" stroke="#000000" stroke-width="4" stroke-opacity="0.12" stroke-linecap="round" stroke-linejoin="round" filter="url(#bl1)"/>
<path d="M772.0,838.0 C775.0,837.0 781.7,833.7 790.0,832.0 C798.3,830.3 816.7,828.7 822.0,828.0" fill="none" stroke="#000000" stroke-width="5" stroke-opacity="0.12" stroke-linecap="round" stroke-linejoin="round" filter="url(#bl1)"/>
<path d="M752.0,855.0 C754.2,855.8 761.0,858.8 765.0,860.0 C769.0,861.2 774.2,861.7 776.0,862.0" fill="none" stroke="#000000" stroke-width="4" stroke-opacity="0.15" stroke-linecap="round" stroke-linejoin="round" filter="url(#bl1)"/>
<path d="M797.0,860.0 C798.5,859.5 803.0,858.3 806.0,857.0 C809.0,855.7 813.5,852.8 815.0,852.0" fill="none" stroke="#000000" stroke-width="3" stroke-opacity="0.16" stroke-linecap="round" stroke-linejoin="round" filter="url(#bl1)"/>
<path d="M700.0,932.0 C703.3,931.7 712.5,931.7 720.0,930.0 C727.5,928.3 738.3,924.5 745.0,922.0 C751.7,919.5 757.5,916.2 760.0,915.0" fill="none" stroke="#000000" stroke-width="4" stroke-opacity="0.12" stroke-linecap="round" stroke-linejoin="round" filter="url(#bl1)"/>
<path d="M705.0,960.0 C708.3,959.7 719.2,960.0 725.0,958.0 C730.8,956.0 737.5,949.7 740.0,948.0" fill="none" stroke="#000000" stroke-width="4" stroke-opacity="0.1" stroke-linecap="round" stroke-linejoin="round" filter="url(#bl1)"/>
<path d="M680.0,1005.0 C683.7,1007.2 693.3,1012.5 702.0,1018.0 C710.7,1023.5 727.0,1034.7 732.0,1038.0" fill="none" stroke="#000000" stroke-width="5" stroke-opacity="0.13" stroke-linecap="round" stroke-linejoin="round" filter="url(#bl1)"/>
<path d="M690.0,1030.0 C694.5,1033.3 707.7,1043.3 717.0,1050.0 C726.3,1056.7 738.8,1064.2 746.0,1070.0 C753.2,1075.8 757.7,1082.5 760.0,1085.0" fill="none" stroke="#000000" stroke-width="8" stroke-opacity="0.16" stroke-linecap="round" stroke-linejoin="round" filter="url(#bl1)"/>
<path d="M752.0,1079.0 C758.3,1079.7 776.5,1081.2 790.0,1083.0 C803.5,1084.8 825.8,1088.8 833.0,1090.0" fill="none" stroke="#000000" stroke-width="14" stroke-opacity="0.08" stroke-linecap="round" stroke-linejoin="round" filter="url(#bl1)"/>
<path d="M752.0,1071.0 C758.3,1071.7 776.5,1072.8 790.0,1075.0 C803.5,1077.2 825.8,1082.5 833.0,1084.0" fill="none" stroke="#000000" stroke-width="3" stroke-opacity="0.13" stroke-linecap="round" stroke-linejoin="round" filter="url(#bl1)"/>
<path d="M752.0,1088.0 C758.3,1088.8 776.5,1091.7 790.0,1093.0 C803.5,1094.3 825.8,1095.5 833.0,1096.0" fill="none" stroke="#000000" stroke-width="3" stroke-opacity="0.13" stroke-linecap="round" stroke-linejoin="round" filter="url(#bl1)"/>
<path d="M676.0,1100.0 C677.3,1104.2 680.3,1117.0 684.0,1125.0 C687.7,1133.0 693.7,1141.3 698.0,1148.0 C702.3,1154.7 708.0,1162.2 710.0,1165.0" fill="none" stroke="#000000" stroke-width="14" stroke-opacity="0.1" stroke-linecap="round" stroke-linejoin="round" filter="url(#bl1)"/>
<path d="M674.0,1060.0 C674.3,1064.2 675.3,1078.3 676.0,1085.0 C676.7,1091.7 677.7,1097.5 678.0,1100.0" fill="none" stroke="#000000" stroke-width="8" stroke-opacity="0.08" stroke-linecap="round" stroke-linejoin="round" filter="url(#bl1)"/>
<path d="M676.0,1102.0 C680.0,1101.2 692.3,1098.3 700.0,1097.0 C707.7,1095.7 713.0,1095.0 722.0,1094.0 C731.0,1093.0 748.7,1091.5 754.0,1091.0" fill="none" stroke="#000000" stroke-width="3" stroke-opacity="0.12" stroke-linecap="round" stroke-linejoin="round" filter="url(#bl1)"/>
<path d="M737.0,1107.0 C739.5,1110.0 747.2,1119.5 752.0,1125.0 C756.8,1130.5 762.0,1135.8 766.0,1140.0 C770.0,1144.2 774.3,1148.3 776.0,1150.0" fill="none" stroke="#000000" stroke-width="9" stroke-opacity="0.2" stroke-linecap="round" stroke-linejoin="round" filter="url(#bl1)"/>
<path d="M752.0,1093.0 C754.2,1097.5 759.8,1110.0 765.0,1120.0 C770.2,1130.0 780.0,1147.5 783.0,1153.0" fill="none" stroke="#000000" stroke-width="3" stroke-opacity="0.12" stroke-linecap="round" stroke-linejoin="round" filter="url(#bl1)"/>
<path d="M702.0,1150.0 C705.0,1151.3 713.7,1155.3 720.0,1158.0 C726.3,1160.7 736.7,1164.7 740.0,1166.0" fill="none" stroke="#000000" stroke-width="10" stroke-opacity="0.12" stroke-linecap="round" stroke-linejoin="round" filter="url(#bl1)"/>
<path d="M790.0,1145.0 C794.2,1147.5 808.0,1153.7 815.0,1160.0 C822.0,1166.3 829.0,1173.8 832.0,1183.0 C835.0,1192.2 833.0,1205.3 833.0,1215.0 C833.0,1224.7 832.2,1236.7 832.0,1241.0" fill="none" stroke="#000000" stroke-width="10" stroke-opacity="0.12" stroke-linecap="round" stroke-linejoin="round" filter="url(#bl1)"/>
<path d="M723.0,1193.0 C725.2,1195.5 731.5,1203.2 736.0,1208.0 C740.5,1212.8 747.7,1219.7 750.0,1222.0" fill="none" stroke="#000000" stroke-width="8" stroke-opacity="0.15" stroke-linecap="round" stroke-linejoin="round" filter="url(#bl1)"/>
<path d="M741.0,1197.0 C743.3,1198.3 751.2,1202.3 755.0,1205.0 C758.8,1207.7 762.0,1210.2 764.0,1213.0 C766.0,1215.8 766.5,1220.5 767.0,1222.0" fill="none" stroke="#000000" stroke-width="5" stroke-opacity="0.14" stroke-linecap="round" stroke-linejoin="round" filter="url(#bl1)"/>
<path d="M765.0,1180.0 C767.5,1181.7 775.8,1185.0 780.0,1190.0 C784.2,1195.0 788.7,1203.3 790.0,1210.0 C791.3,1216.7 788.3,1226.7 788.0,1230.0" fill="none" stroke="#000000" stroke-width="4" stroke-opacity="0.1" stroke-linecap="round" stroke-linejoin="round" filter="url(#bl1)"/>
<path d="M813.0,1231.0 C815.0,1229.5 821.7,1220.5 825.0,1222.0 C828.3,1223.5 834.8,1235.8 833.0,1240.0 C831.2,1244.2 817.2,1245.8 814.0,1247.0" fill="none" stroke="#000000" stroke-width="6" stroke-opacity="0.18" stroke-linecap="round" stroke-linejoin="round" filter="url(#bl1)"/>
<path d="M738.0,852.0 C736.7,854.7 732.0,862.5 730.0,868.0 C728.0,873.5 726.7,882.2 726.0,885.0" fill="none" stroke="#000000" stroke-width="6" stroke-opacity="0.13" stroke-linecap="round" stroke-linejoin="round" filter="url(#bl1)"/>
<path d="M812.0,1030.0 C811.0,1035.0 806.0,1050.0 806.0,1060.0 C806.0,1070.0 811.0,1085.0 812.0,1090.0" fill="none" stroke="#000000" stroke-width="6" stroke-opacity="0.1" stroke-linecap="round" stroke-linejoin="round" filter="url(#bl1)"/>
<path d="M800.0,1150.0 C802.5,1148.3 810.0,1143.3 815.0,1140.0 C820.0,1136.7 827.5,1131.7 830.0,1130.0" fill="none" stroke="#000000" stroke-width="5" stroke-opacity="0.11" stroke-linecap="round" stroke-linejoin="round" filter="url(#bl1)"/>
<path d="M805.0,1110.0 C807.5,1111.3 815.5,1117.7 820.0,1118.0 C824.5,1118.3 830.0,1113.0 832.0,1112.0" fill="none" stroke="#000000" stroke-width="5" stroke-opacity="0.1" stroke-linecap="round" stroke-linejoin="round" filter="url(#bl1)"/>
<path d="M818.0,882.0 C817.3,888.0 813.7,906.0 814.0,918.0 C814.3,930.0 818.3,942.0 820.0,954.0 C821.7,966.0 824.3,978.0 824.0,990.0 C823.7,1002.0 818.2,1014.3 818.0,1026.0 C817.8,1037.7 822.2,1054.3 823.0,1060.0" fill="none" stroke="#000000" stroke-width="0.9" stroke-opacity="0.22" stroke-linecap="round" stroke-linejoin="round"/>
<path d="M788.0,878.0 C787.0,881.7 781.8,891.3 782.0,900.0 C782.2,908.7 789.0,920.3 789.0,930.0 C789.0,939.7 782.0,948.3 782.0,958.0 C782.0,967.7 788.8,978.2 789.0,988.0 C789.2,997.8 784.0,1012.2 783.0,1017.0" fill="none" stroke="#000000" stroke-width="0.9" stroke-opacity="0.22" stroke-linecap="round" stroke-linejoin="round"/>
<path d="M760.0,880.0 C758.7,883.3 752.0,892.5 752.0,900.0 C752.0,907.5 760.2,916.7 760.0,925.0 C759.8,933.3 750.7,941.2 751.0,950.0 C751.3,958.8 761.7,968.8 762.0,978.0 C762.3,987.2 754.5,1000.5 753.0,1005.0" fill="none" stroke="#000000" stroke-width="0.9" stroke-opacity="0.22" stroke-linecap="round" stroke-linejoin="round"/>
<path d="M742.0,850.0 C739.2,855.3 728.8,870.7 725.0,882.0 C721.2,893.3 719.0,906.0 719.0,918.0 C719.0,930.0 721.7,943.5 725.0,954.0 C728.3,964.5 735.7,973.3 739.0,981.0 C742.3,988.7 744.0,996.8 745.0,1000.0" fill="none" stroke="#000000" stroke-width="0.9" stroke-opacity="0.22" stroke-linecap="round" stroke-linejoin="round"/>
<path d="M688.0,1034.0 C692.8,1037.3 707.3,1047.3 717.0,1054.0 C726.7,1060.7 738.8,1068.3 746.0,1074.0 C753.2,1079.7 757.7,1085.7 760.0,1088.0" fill="none" stroke="#000000" stroke-width="0.9" stroke-opacity="0.22" stroke-linecap="round" stroke-linejoin="round"/>
<path d="M752.0,1070.0 C758.3,1070.7 776.5,1071.8 790.0,1074.0 C803.5,1076.2 825.8,1081.5 833.0,1083.0" fill="none" stroke="#000000" stroke-width="0.9" stroke-opacity="0.22" stroke-linecap="round" stroke-linejoin="round"/>
<path d="M752.0,1089.0 C758.3,1089.8 776.5,1092.7 790.0,1094.0 C803.5,1095.3 825.8,1096.5 833.0,1097.0" fill="none" stroke="#000000" stroke-width="0.9" stroke-opacity="0.22" stroke-linecap="round" stroke-linejoin="round"/>
<path d="M677.0,1059.0 C677.3,1066.3 676.2,1090.0 679.0,1103.0 C681.8,1116.0 689.8,1127.5 694.0,1137.0 C698.2,1146.5 702.3,1156.2 704.0,1160.0" fill="none" stroke="#000000" stroke-width="0.9" stroke-opacity="0.22" stroke-linecap="round" stroke-linejoin="round"/>
<path d="M736.0,1105.0 C740.0,1108.8 753.3,1120.5 760.0,1128.0 C766.7,1135.5 773.3,1146.3 776.0,1150.0" fill="none" stroke="#000000" stroke-width="0.9" stroke-opacity="0.22" stroke-linecap="round" stroke-linejoin="round"/>
<path d="M790.0,1145.0 C794.2,1147.5 808.0,1153.7 815.0,1160.0 C822.0,1166.3 829.2,1179.2 832.0,1183.0" fill="none" stroke="#000000" stroke-width="0.9" stroke-opacity="0.22" stroke-linecap="round" stroke-linejoin="round"/>
<path d="M760.0,1100.0 C762.5,1105.0 771.2,1121.2 775.0,1130.0 C778.8,1138.8 781.7,1149.2 783.0,1153.0" fill="none" stroke="#000000" stroke-width="0.9" stroke-opacity="0.22" stroke-linecap="round" stroke-linejoin="round"/>
<path d="M800.0,1010.0 C800.8,1015.0 805.0,1030.0 805.0,1040.0 C805.0,1050.0 800.8,1065.0 800.0,1070.0" fill="none" stroke="#000000" stroke-width="0.9" stroke-opacity="0.22" stroke-linecap="round" stroke-linejoin="round"/>
<path d="M770.0,1000.0 C770.8,1005.0 774.7,1019.2 775.0,1030.0 C775.3,1040.8 772.5,1059.2 772.0,1065.0" fill="none" stroke="#000000" stroke-width="0.9" stroke-opacity="0.22" stroke-linecap="round" stroke-linejoin="round"/>
<path d="M720.0,1170.0 C723.3,1168.3 733.3,1163.3 740.0,1160.0 C746.7,1156.7 756.7,1151.7 760.0,1150.0" fill="none" stroke="#000000" stroke-width="0.9" stroke-opacity="0.22" stroke-linecap="round" stroke-linejoin="round"/>
<path d="M795.0,1200.0 C796.7,1205.0 804.2,1220.0 805.0,1230.0 C805.8,1240.0 800.8,1255.0 800.0,1260.0" fill="none" stroke="#000000" stroke-width="0.9" stroke-opacity="0.22" stroke-linecap="round" stroke-linejoin="round"/></g>
<path d="M858.0,1110.0 C860.5,1108.0 868.7,1107.0 872.0,1108.0 C875.3,1109.0 879.0,1113.3 878.0,1116.0 C877.0,1118.7 869.5,1123.3 866.0,1124.0 C862.5,1124.7 858.3,1122.3 857.0,1120.0 C855.7,1117.7 855.5,1112.0 858.0,1110.0Z" fill="#ffffff" fill-opacity="0.6" filter="url(#bl1)"/>
<path d="M1004.0,1080.0 C1006.5,1078.0 1015.0,1076.7 1018.0,1078.0 C1021.0,1079.3 1023.0,1085.2 1022.0,1088.0 C1021.0,1090.8 1015.2,1094.7 1012.0,1095.0 C1008.8,1095.3 1004.3,1092.5 1003.0,1090.0 C1001.7,1087.5 1001.5,1082.0 1004.0,1080.0Z" fill="#ffffff" fill-opacity="0.6" filter="url(#bl1)"/>
</g>
<path d="M856.0,837.4 C856.4,835.6 856.2,829.3 858.2,826.4 C860.2,823.5 863.4,820.9 868.2,819.9 C873.0,818.9 881.3,819.7 887.0,820.6 C892.7,821.5 898.2,823.5 902.6,825.3 C907.0,827.1 910.5,829.8 913.6,831.6 C916.7,833.4 917.5,834.5 921.4,836.3 C925.3,838.1 932.6,840.5 937.0,842.6 C941.4,844.7 944.9,845.9 948.0,848.8 C951.1,851.7 953.4,855.4 955.8,859.8 C958.1,864.2 960.0,870.2 962.1,875.4 C964.2,880.6 965.7,887.2 968.3,891.1 C970.9,895.0 974.8,896.3 977.7,898.9 C980.6,901.5 983.4,902.8 985.5,906.7 C987.6,910.6 988.9,917.2 990.2,922.4 C991.5,927.6 992.6,932.8 993.4,938.0 C994.2,943.2 995.0,949.7 994.9,953.7 C994.8,957.7 992.2,958.8 992.5,962.0 C992.8,965.2 994.5,970.7 996.5,973.2 C998.5,975.7 1002.5,973.8 1004.3,977.1 C1006.1,980.4 1006.4,988.3 1007.4,992.8 C1008.4,997.3 1009.0,1000.7 1010.0,1004.0 C1011.0,1007.3 1012.3,1009.2 1013.7,1012.5 C1015.1,1015.8 1017.4,1019.6 1018.4,1023.5 C1019.4,1027.4 1019.3,1030.8 1019.8,1036.0 C1020.3,1041.2 1021.1,1047.8 1021.5,1054.8 C1021.9,1061.8 1022.4,1072.2 1022.3,1078.2 C1022.2,1084.2 1021.7,1086.1 1020.8,1090.8 C1019.9,1095.5 1017.7,1102.0 1016.8,1106.4 C1015.9,1110.8 1016.3,1113.5 1015.3,1117.4 C1014.3,1121.3 1012.4,1126.0 1010.6,1129.9 C1008.8,1133.8 1006.6,1137.4 1004.3,1140.8 C1001.9,1144.2 998.9,1147.3 996.5,1150.2 C994.1,1153.1 992.0,1155.5 990.2,1158.1 C988.4,1160.7 987.6,1163.0 985.5,1165.9 C983.4,1168.8 978.6,1171.6 977.5,1175.3 C976.4,1179.0 978.8,1184.4 978.7,1188.0 C978.6,1191.6 978.5,1193.4 977.0,1197.0 C975.5,1200.6 972.9,1205.1 970.0,1209.5 C967.1,1213.9 964.1,1218.2 959.4,1223.5 C954.7,1228.8 947.5,1235.5 942.0,1241.0 C936.5,1246.5 931.8,1252.6 926.2,1256.7 C920.7,1260.8 914.5,1263.2 908.7,1265.5 C902.9,1267.8 897.0,1270.0 891.2,1270.7 C885.4,1271.4 878.4,1271.2 873.7,1269.8 C869.0,1268.3 866.4,1265.6 863.2,1262.0 C860.0,1258.4 856.4,1253.5 854.4,1248.0 C852.4,1242.5 851.6,1231.9 851.0,1228.7 L851.8,1185.0 L852.5,1160.0 L853.8,1140.0 L853.8,1113.0 L847.8,1110.0 L847.8,914.0 L850.0,908.6 L851.6,886.7 L853.8,859.3Z" fill="none" stroke="#000" stroke-opacity="0.10" stroke-width="12" clip-path="url(#cR)" filter="url(#bl1)"/>
<path d="M856.0,837.4 C856.4,835.6 856.2,829.3 858.2,826.4 C860.2,823.5 863.4,820.9 868.2,819.9 C873.0,818.9 881.3,819.7 887.0,820.6 C892.7,821.5 898.2,823.5 902.6,825.3 C907.0,827.1 910.5,829.8 913.6,831.6 C916.7,833.4 917.5,834.5 921.4,836.3 C925.3,838.1 932.6,840.5 937.0,842.6 C941.4,844.7 944.9,845.9 948.0,848.8 C951.1,851.7 953.4,855.4 955.8,859.8 C958.1,864.2 960.0,870.2 962.1,875.4 C964.2,880.6 965.7,887.2 968.3,891.1 C970.9,895.0 974.8,896.3 977.7,898.9 C980.6,901.5 983.4,902.8 985.5,906.7 C987.6,910.6 988.9,917.2 990.2,922.4 C991.5,927.6 992.6,932.8 993.4,938.0 C994.2,943.2 995.0,949.7 994.9,953.7 C994.8,957.7 992.2,958.8 992.5,962.0 C992.8,965.2 994.5,970.7 996.5,973.2 C998.5,975.7 1002.5,973.8 1004.3,977.1 C1006.1,980.4 1006.4,988.3 1007.4,992.8 C1008.4,997.3 1009.0,1000.7 1010.0,1004.0 C1011.0,1007.3 1012.3,1009.2 1013.7,1012.5 C1015.1,1015.8 1017.4,1019.6 1018.4,1023.5 C1019.4,1027.4 1019.3,1030.8 1019.8,1036.0 C1020.3,1041.2 1021.1,1047.8 1021.5,1054.8 C1021.9,1061.8 1022.4,1072.2 1022.3,1078.2 C1022.2,1084.2 1021.7,1086.1 1020.8,1090.8 C1019.9,1095.5 1017.7,1102.0 1016.8,1106.4 C1015.9,1110.8 1016.3,1113.5 1015.3,1117.4 C1014.3,1121.3 1012.4,1126.0 1010.6,1129.9 C1008.8,1133.8 1006.6,1137.4 1004.3,1140.8 C1001.9,1144.2 998.9,1147.3 996.5,1150.2 C994.1,1153.1 992.0,1155.5 990.2,1158.1 C988.4,1160.7 987.6,1163.0 985.5,1165.9 C983.4,1168.8 978.6,1171.6 977.5,1175.3 C976.4,1179.0 978.8,1184.4 978.7,1188.0 C978.6,1191.6 978.5,1193.4 977.0,1197.0 C975.5,1200.6 972.9,1205.1 970.0,1209.5 C967.1,1213.9 964.1,1218.2 959.4,1223.5 C954.7,1228.8 947.5,1235.5 942.0,1241.0 C936.5,1246.5 931.8,1252.6 926.2,1256.7 C920.7,1260.8 914.5,1263.2 908.7,1265.5 C902.9,1267.8 897.0,1270.0 891.2,1270.7 C885.4,1271.4 878.4,1271.2 873.7,1269.8 C869.0,1268.3 866.4,1265.6 863.2,1262.0 C860.0,1258.4 856.4,1253.5 854.4,1248.0 C852.4,1242.5 851.6,1231.9 851.0,1228.7 L851.8,1185.0 L852.5,1160.0 L853.8,1140.0 L853.8,1113.0 L847.8,1110.0 L847.8,914.0 L850.0,908.6 L851.6,886.7 L853.8,859.3Z" fill="none" stroke="#9c9c9c" stroke-width="1.3"/>
<rect x="838.2" y="918" width="5.8" height="191" fill="#dcdcdc"/>
<rect x="847.8" y="918" width="5.2" height="192" fill="#e0e0e0"/>
<path d="M838.2,918 L838.2,1109 M853,918 L853,1110" stroke="#a8a8a8" stroke-width="0.8" fill="none"/>
<text x="760.9" y="823.6" class="el" textLength="28.0" lengthAdjust="spacingAndGlyphs">Fp1</text>
<text x="919.6" y="825.5" class="el" textLength="28.9" lengthAdjust="spacingAndGlyphs">Fp2</text>
<text x="735.2" y="871.8" class="el" textLength="18.5" lengthAdjust="spacingAndGlyphs">F3</text>
<text x="949.6" y="875.6" class="el" textLength="18.5" lengthAdjust="spacingAndGlyphs">F4</text>
<text x="848.5" y="890.3" class="el" textLength="17.4" lengthAdjust="spacingAndGlyphs">Fz</text>
<text x="686.0" y="914.7" class="el" textLength="18.0" lengthAdjust="spacingAndGlyphs">F7</text>
<text x="991.8" y="922.6" class="el" textLength="18.8" lengthAdjust="spacingAndGlyphs">F8</text>
<text x="848.5" y="1026.9" class="el" textLength="19.2" lengthAdjust="spacingAndGlyphs">Cz</text>
<text x="690.5" y="1033.6" class="el" textLength="21.0" lengthAdjust="spacingAndGlyphs">C3</text>
<text x="985.0" y="1038.2" class="el" textLength="21.0" lengthAdjust="spacingAndGlyphs">C4</text>
<text x="646.2" y="1054.0" class="el" textLength="18.6" lengthAdjust="spacingAndGlyphs">T3</text>
<text x="1031.1" y="1064.0" class="el" textLength="18.6" lengthAdjust="spacingAndGlyphs">T4</text>
<text x="847.3" y="1148.4" class="el" textLength="18.7" lengthAdjust="spacingAndGlyphs">Pz</text>
<text x="668.6" y="1163.5" class="el" textLength="18.6" lengthAdjust="spacingAndGlyphs">T5</text>
<text x="998.8" y="1169.0" class="el" textLength="18.7" lengthAdjust="spacingAndGlyphs">T6</text>
<text x="723.9" y="1185.1" class="el" textLength="19.9" lengthAdjust="spacingAndGlyphs">P3</text>
<text x="941.2" y="1181.4" class="el" textLength="19.9" lengthAdjust="spacingAndGlyphs">P4</text>
<text x="754.7" y="1249.7" class="el" textLength="20.6" lengthAdjust="spacingAndGlyphs">O1</text>
<text x="908.2" y="1250.4" class="el" textLength="21.1" lengthAdjust="spacingAndGlyphs">O2</text>
</svg>
</body></html>
